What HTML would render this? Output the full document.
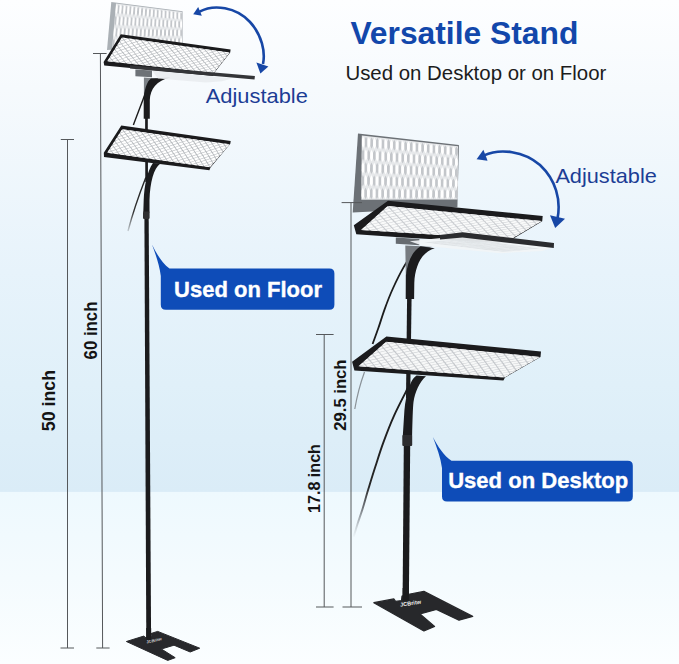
<!DOCTYPE html>
<html lang="en"><head><meta charset="utf-8"><title>Versatile Stand</title>
<style>
html,body{margin:0;padding:0;background:#fff;}
body{width:679px;height:664px;overflow:hidden;font-family:"Liberation Sans",Arial,sans-serif;}
svg{display:block;}
</style></head><body>
<svg width="679" height="664" viewBox="0 0 679 664">
<defs>
<linearGradient id="sky" x1="0" y1="0" x2="0" y2="1">
<stop offset="0" stop-color="#fdfeff"/>
<stop offset="0.18" stop-color="#f6fafd"/>
<stop offset="0.55" stop-color="#e7f3fb"/>
<stop offset="0.78" stop-color="#e0f0f9"/>
<stop offset="1" stop-color="#daecf7"/>
</linearGradient>
<linearGradient id="floor" x1="0" y1="0" x2="0" y2="1">
<stop offset="0" stop-color="#eef9fe"/>
<stop offset="0.5" stop-color="#f4fbfe"/>
<stop offset="1" stop-color="#fbfeff"/>
</linearGradient>
<linearGradient id="cabfadeL" gradientUnits="userSpaceOnUse" x1="0" y1="175" x2="0" y2="236">
<stop offset="0" stop-color="#222"/><stop offset="0.6" stop-color="#333"/><stop offset="1" stop-color="#333" stop-opacity="0"/>
</linearGradient>
<linearGradient id="cabfadeR" gradientUnits="userSpaceOnUse" x1="0" y1="386" x2="0" y2="538">
<stop offset="0" stop-color="#1a1a1a"/><stop offset="0.66" stop-color="#262626"/><stop offset="0.8" stop-color="#50545a" stop-opacity="0.8"/><stop offset="1" stop-color="#80868c" stop-opacity="0"/>
</linearGradient>
<filter id="soft" x="-5%" y="-5%" width="110%" height="110%"><feGaussianBlur stdDeviation="0.4"/></filter>
</defs>
<rect x="0" y="0" width="679" height="493" fill="url(#sky)"/>
<rect x="0" y="491.9" width="679" height="172.1" fill="url(#floor)"/>
<polygon points="111.3,2.0 182.6,11.3 182.6,46.0 107.0,50.0" fill="#aab0b5"/>
<polygon points="116.0,3.4 182.2,12.0 182.2,45.5 112.0,49.5" fill="#e6e8ea"/>
<clipPath id="c1"><polygon points="116.0,3.4 182.2,12.0 182.2,45.5 112.0,49.5"/></clipPath>
<g clip-path="url(#c1)"><path d="M118.9 4.2 L119.6 7.2 L119.2 11.9 L118.0 14.7 L117.3 11.7 L117.7 7.0ZM122.8 4.7 L123.5 7.7 L123.2 12.3 L122.0 15.0 L121.2 12.1 L121.6 7.5ZM126.7 5.2 L127.4 8.1 L127.1 12.7 L125.9 15.4 L125.1 12.5 L125.5 7.9ZM130.6 5.7 L131.4 8.6 L131.0 13.0 L129.9 15.7 L129.1 12.9 L129.4 8.4ZM134.5 6.2 L135.3 9.0 L135.0 13.4 L133.8 16.0 L133.0 13.2 L133.3 8.8ZM138.4 6.7 L139.2 9.5 L138.9 13.8 L137.8 16.4 L136.9 13.6 L137.2 9.3ZM142.3 7.2 L143.1 9.9 L142.8 14.2 L141.7 16.7 L140.9 14.0 L141.1 9.7ZM146.2 7.7 L147.0 10.4 L146.8 14.5 L145.7 17.0 L144.8 14.4 L145.0 10.2ZM150.1 8.2 L150.9 10.8 L150.7 14.9 L149.6 17.3 L148.7 14.7 L149.0 10.6ZM154.0 8.7 L154.8 11.3 L154.7 15.3 L153.6 17.7 L152.7 15.1 L152.9 11.1ZM157.8 9.2 L158.7 11.7 L158.6 15.7 L157.5 18.0 L156.6 15.5 L156.8 11.5ZM161.7 9.7 L162.6 12.2 L162.5 16.0 L161.5 18.3 L160.6 15.9 L160.7 12.0ZM165.6 10.2 L166.6 12.6 L166.5 16.4 L165.4 18.6 L164.5 16.2 L164.6 12.4ZM169.5 10.7 L170.5 13.1 L170.4 16.8 L169.4 19.0 L168.4 16.6 L168.5 12.9ZM173.4 11.2 L174.4 13.6 L174.3 17.2 L173.3 19.3 L172.4 17.0 L172.4 13.3ZM177.3 11.7 L178.3 14.0 L178.3 17.5 L177.3 19.6 L176.3 17.4 L176.3 13.8ZM181.2 12.2 L182.2 14.5 L182.2 17.9 L181.2 20.0 L180.2 17.7 L180.2 14.2ZM115.9 15.5 L116.7 18.4 L116.3 23.2 L115.0 26.0 L114.3 23.1 L114.7 18.3ZM119.9 15.8 L120.7 18.7 L120.3 23.4 L119.1 26.2 L118.3 23.3 L118.7 18.6ZM123.9 16.1 L124.6 19.0 L124.3 23.5 L123.1 26.3 L122.3 23.5 L122.6 18.8ZM127.8 16.4 L128.6 19.2 L128.3 23.7 L127.1 26.5 L126.3 23.6 L126.6 19.1ZM131.8 16.7 L132.6 19.5 L132.3 23.9 L131.1 26.6 L130.3 23.8 L130.6 19.4ZM135.7 17.0 L136.5 19.8 L136.3 24.1 L135.1 26.7 L134.3 24.0 L134.6 19.6ZM139.7 17.3 L140.5 20.0 L140.3 24.3 L139.1 26.9 L138.3 24.2 L138.5 19.9ZM143.6 17.7 L144.5 20.3 L144.3 24.5 L143.1 27.0 L142.3 24.4 L142.5 20.2ZM147.6 18.0 L148.5 20.6 L148.2 24.7 L147.1 27.2 L146.2 24.6 L146.5 20.4ZM151.5 18.3 L152.4 20.8 L152.2 24.9 L151.1 27.3 L150.2 24.8 L150.4 20.7ZM155.5 18.6 L156.4 21.1 L156.2 25.1 L155.1 27.5 L154.2 25.0 L154.4 21.0ZM159.5 18.9 L160.4 21.4 L160.2 25.3 L159.1 27.6 L158.2 25.2 L158.4 21.2ZM163.4 19.2 L164.3 21.6 L164.2 25.4 L163.2 27.7 L162.2 25.3 L162.3 21.5ZM167.4 19.5 L168.3 21.9 L168.2 25.6 L167.2 27.9 L166.2 25.5 L166.3 21.8ZM171.3 19.8 L172.3 22.2 L172.2 25.8 L171.2 28.0 L170.2 25.7 L170.3 22.0ZM175.3 20.2 L176.2 22.4 L176.2 26.0 L175.2 28.2 L174.2 25.9 L174.3 22.3ZM179.2 20.5 L180.2 22.7 L180.2 26.2 L179.2 28.3 L178.2 26.1 L178.2 22.6ZM117.0 27.0 L117.7 29.9 L117.3 34.6 L116.1 37.5 L115.3 34.6 L115.7 29.9ZM121.0 27.1 L121.8 30.0 L121.4 34.6 L120.2 37.4 L119.4 34.6 L119.8 29.9ZM125.0 27.3 L125.8 30.1 L125.5 34.6 L124.2 37.4 L123.4 34.6 L123.8 30.0ZM129.0 27.4 L129.8 30.2 L129.5 34.6 L128.3 37.4 L127.5 34.6 L127.8 30.1ZM133.0 27.5 L133.9 30.2 L133.6 34.6 L132.4 37.3 L131.5 34.6 L131.8 30.2ZM137.0 27.6 L137.9 30.3 L137.6 34.6 L136.4 37.3 L135.6 34.6 L135.9 30.3ZM141.1 27.8 L141.9 30.4 L141.7 34.6 L140.5 37.2 L139.6 34.6 L139.9 30.4ZM145.1 27.9 L145.9 30.5 L145.7 34.6 L144.6 37.2 L143.7 34.6 L143.9 30.4ZM149.1 28.0 L150.0 30.6 L149.8 34.6 L148.6 37.1 L147.7 34.6 L148.0 30.5ZM153.1 28.2 L154.0 30.6 L153.8 34.6 L152.7 37.1 L151.8 34.6 L152.0 30.6ZM157.1 28.3 L158.0 30.7 L157.9 34.6 L156.8 37.1 L155.9 34.6 L156.0 30.7ZM161.1 28.4 L162.1 30.8 L161.9 34.6 L160.8 37.0 L159.9 34.6 L160.0 30.8ZM165.1 28.5 L166.1 30.9 L166.0 34.7 L164.9 37.0 L164.0 34.7 L164.1 30.8ZM169.2 28.7 L170.1 31.0 L170.0 34.7 L169.0 36.9 L168.0 34.7 L168.1 30.9ZM173.2 28.8 L174.1 31.0 L174.1 34.7 L173.0 36.9 L172.1 34.7 L172.1 31.0ZM177.2 28.9 L178.2 31.1 L178.1 34.7 L177.1 36.8 L176.1 34.7 L176.2 31.1ZM181.2 29.1 L182.2 31.2 L182.2 34.7 L181.2 36.8 L180.2 34.7 L180.2 31.2ZM114.0 38.4 L114.8 41.3 L114.3 46.0 L113.1 49.0 L112.3 46.1 L112.7 41.4ZM118.1 38.4 L118.8 41.2 L118.5 45.9 L117.2 48.8 L116.4 45.9 L116.8 41.2ZM122.1 38.3 L122.9 41.1 L122.6 45.7 L121.3 48.5 L120.5 45.8 L120.9 41.1ZM126.2 38.2 L127.0 41.0 L126.7 45.5 L125.5 48.3 L124.6 45.6 L125.0 41.0ZM130.3 38.2 L131.1 40.9 L130.8 45.3 L129.6 48.1 L128.7 45.4 L129.1 40.9ZM134.3 38.1 L135.2 40.8 L134.9 45.1 L133.7 47.8 L132.9 45.2 L133.1 40.8ZM138.4 38.1 L139.3 40.7 L139.0 44.9 L137.8 47.6 L137.0 45.0 L137.2 40.7ZM142.5 38.0 L143.4 40.6 L143.1 44.8 L142.0 47.4 L141.1 44.9 L141.3 40.6ZM146.6 38.0 L147.5 40.5 L147.2 44.6 L146.1 47.2 L145.2 44.7 L145.4 40.5ZM150.6 37.9 L151.5 40.4 L151.4 44.4 L150.2 46.9 L149.3 44.5 L149.5 40.4ZM154.7 37.8 L155.6 40.3 L155.5 44.2 L154.3 46.7 L153.4 44.3 L153.6 40.3ZM158.8 37.8 L159.7 40.2 L159.6 44.0 L158.5 46.5 L157.5 44.1 L157.7 40.2ZM162.9 37.7 L163.8 40.0 L163.7 43.9 L162.6 46.2 L161.6 44.0 L161.8 40.1ZM166.9 37.7 L167.9 39.9 L167.8 43.7 L166.7 46.0 L165.8 43.8 L165.8 40.0ZM171.0 37.6 L172.0 39.8 L171.9 43.5 L170.9 45.8 L169.9 43.6 L169.9 39.9ZM175.1 37.6 L176.1 39.7 L176.0 43.3 L175.0 45.6 L174.0 43.4 L174.0 39.8ZM179.1 37.5 L180.2 39.6 L180.1 43.1 L179.1 45.3 L178.1 43.2 L178.1 39.7Z" fill="#c3c6ca" filter="url(#soft)"/><path d="M116.9 4.0 L117.7 7.0 L117.3 11.7 L116.0 14.5 L115.3 11.5 L115.7 6.8ZM120.8 4.5 L121.6 7.5 L121.2 12.1 L120.0 14.9 L119.2 11.9 L119.6 7.2ZM124.7 5.0 L125.5 7.9 L125.1 12.5 L123.9 15.2 L123.2 12.3 L123.5 7.7ZM128.6 5.5 L129.4 8.4 L129.1 12.9 L127.9 15.5 L127.1 12.7 L127.4 8.1ZM132.5 6.0 L133.3 8.8 L133.0 13.2 L131.8 15.9 L131.0 13.0 L131.4 8.6ZM136.4 6.5 L137.2 9.3 L136.9 13.6 L135.8 16.2 L135.0 13.4 L135.3 9.0ZM140.3 7.0 L141.1 9.7 L140.9 14.0 L139.7 16.5 L138.9 13.8 L139.2 9.5ZM144.2 7.5 L145.0 10.2 L144.8 14.4 L143.7 16.8 L142.8 14.2 L143.1 9.9ZM148.1 8.0 L149.0 10.6 L148.7 14.7 L147.6 17.2 L146.8 14.5 L147.0 10.4ZM152.0 8.5 L152.9 11.1 L152.7 15.1 L151.6 17.5 L150.7 14.9 L150.9 10.8ZM155.9 9.0 L156.8 11.5 L156.6 15.5 L155.5 17.8 L154.7 15.3 L154.8 11.3ZM159.8 9.5 L160.7 12.0 L160.6 15.9 L159.5 18.2 L158.6 15.7 L158.7 11.7ZM163.7 10.0 L164.6 12.4 L164.5 16.2 L163.4 18.5 L162.5 16.0 L162.6 12.2ZM167.6 10.5 L168.5 12.9 L168.4 16.6 L167.4 18.8 L166.5 16.4 L166.6 12.6ZM171.5 11.0 L172.4 13.3 L172.4 17.0 L171.3 19.1 L170.4 16.8 L170.5 13.1ZM175.4 11.5 L176.3 13.8 L176.3 17.4 L175.3 19.5 L174.3 17.2 L174.4 13.6ZM179.3 12.0 L180.2 14.2 L180.2 17.7 L179.2 19.8 L178.3 17.5 L178.3 14.0ZM117.9 15.6 L118.7 18.6 L118.3 23.3 L117.0 26.1 L116.3 23.2 L116.7 18.4ZM121.9 15.9 L122.6 18.8 L122.3 23.5 L121.1 26.2 L120.3 23.4 L120.7 18.7ZM125.8 16.2 L126.6 19.1 L126.3 23.6 L125.1 26.4 L124.3 23.5 L124.6 19.0ZM129.8 16.6 L130.6 19.4 L130.3 23.8 L129.1 26.5 L128.3 23.7 L128.6 19.2ZM133.7 16.9 L134.6 19.6 L134.3 24.0 L133.1 26.7 L132.3 23.9 L132.6 19.5ZM137.7 17.2 L138.5 19.9 L138.3 24.2 L137.1 26.8 L136.3 24.1 L136.5 19.8ZM141.7 17.5 L142.5 20.2 L142.3 24.4 L141.1 27.0 L140.3 24.3 L140.5 20.0ZM145.6 17.8 L146.5 20.4 L146.2 24.6 L145.1 27.1 L144.3 24.5 L144.5 20.3ZM149.6 18.1 L150.4 20.7 L150.2 24.8 L149.1 27.2 L148.2 24.7 L148.5 20.6ZM153.5 18.4 L154.4 21.0 L154.2 25.0 L153.1 27.4 L152.2 24.9 L152.4 20.8ZM157.5 18.8 L158.4 21.2 L158.2 25.2 L157.1 27.5 L156.2 25.1 L156.4 21.1ZM161.4 19.1 L162.3 21.5 L162.2 25.3 L161.2 27.7 L160.2 25.3 L160.4 21.4ZM165.4 19.4 L166.3 21.8 L166.2 25.5 L165.2 27.8 L164.2 25.4 L164.3 21.6ZM169.3 19.7 L170.3 22.0 L170.2 25.7 L169.2 28.0 L168.2 25.6 L168.3 21.9ZM173.3 20.0 L174.3 22.3 L174.2 25.9 L173.2 28.1 L172.2 25.8 L172.3 22.2ZM177.3 20.3 L178.2 22.6 L178.2 26.1 L177.2 28.2 L176.2 26.0 L176.2 22.4ZM181.2 20.6 L182.2 22.8 L182.2 26.3 L181.2 28.4 L180.2 26.2 L180.2 22.7ZM115.0 26.9 L115.7 29.9 L115.3 34.6 L114.1 37.5 L113.3 34.6 L113.7 29.8ZM119.0 27.1 L119.8 29.9 L119.4 34.6 L118.1 37.5 L117.3 34.6 L117.7 29.9ZM123.0 27.2 L123.8 30.0 L123.4 34.6 L122.2 37.4 L121.4 34.6 L121.8 30.0ZM127.0 27.3 L127.8 30.1 L127.5 34.6 L126.3 37.4 L125.5 34.6 L125.8 30.1ZM131.0 27.5 L131.8 30.2 L131.5 34.6 L130.3 37.3 L129.5 34.6 L129.8 30.2ZM135.0 27.6 L135.9 30.3 L135.6 34.6 L134.4 37.3 L133.6 34.6 L133.9 30.2ZM139.0 27.7 L139.9 30.4 L139.6 34.6 L138.5 37.2 L137.6 34.6 L137.9 30.3ZM143.1 27.8 L143.9 30.4 L143.7 34.6 L142.5 37.2 L141.7 34.6 L141.9 30.4ZM147.1 28.0 L148.0 30.5 L147.7 34.6 L146.6 37.2 L145.7 34.6 L145.9 30.5ZM151.1 28.1 L152.0 30.6 L151.8 34.6 L150.7 37.1 L149.8 34.6 L150.0 30.6ZM155.1 28.2 L156.0 30.7 L155.9 34.6 L154.7 37.1 L153.8 34.6 L154.0 30.6ZM159.1 28.3 L160.0 30.8 L159.9 34.6 L158.8 37.0 L157.9 34.6 L158.0 30.7ZM163.1 28.5 L164.1 30.8 L164.0 34.7 L162.9 37.0 L161.9 34.6 L162.1 30.8ZM167.1 28.6 L168.1 30.9 L168.0 34.7 L166.9 36.9 L166.0 34.7 L166.1 30.9ZM171.2 28.7 L172.1 31.0 L172.1 34.7 L171.0 36.9 L170.0 34.7 L170.1 31.0ZM175.2 28.9 L176.2 31.1 L176.1 34.7 L175.1 36.9 L174.1 34.7 L174.1 31.0ZM179.2 29.0 L180.2 31.2 L180.2 34.7 L179.1 36.8 L178.1 34.7 L178.2 31.1ZM116.0 38.4 L116.8 41.2 L116.4 45.9 L115.1 48.9 L114.3 46.0 L114.8 41.3ZM120.1 38.3 L120.9 41.1 L120.5 45.8 L119.3 48.6 L118.5 45.9 L118.8 41.2ZM124.2 38.3 L125.0 41.0 L124.6 45.6 L123.4 48.4 L122.6 45.7 L122.9 41.1ZM128.2 38.2 L129.1 40.9 L128.7 45.4 L127.5 48.2 L126.7 45.5 L127.0 41.0ZM132.3 38.2 L133.1 40.8 L132.9 45.2 L131.6 48.0 L130.8 45.3 L131.1 40.9ZM136.4 38.1 L137.2 40.7 L137.0 45.0 L135.8 47.7 L134.9 45.1 L135.2 40.8ZM140.5 38.0 L141.3 40.6 L141.1 44.9 L139.9 47.5 L139.0 44.9 L139.3 40.7ZM144.5 38.0 L145.4 40.5 L145.2 44.7 L144.0 47.3 L143.1 44.8 L143.4 40.6ZM148.6 37.9 L149.5 40.4 L149.3 44.5 L148.2 47.0 L147.2 44.6 L147.5 40.5ZM152.7 37.9 L153.6 40.3 L153.4 44.3 L152.3 46.8 L151.4 44.4 L151.5 40.4ZM156.7 37.8 L157.7 40.2 L157.5 44.1 L156.4 46.6 L155.5 44.2 L155.6 40.3ZM160.8 37.8 L161.8 40.1 L161.6 44.0 L160.5 46.4 L159.6 44.0 L159.7 40.2ZM164.9 37.7 L165.8 40.0 L165.8 43.8 L164.7 46.1 L163.7 43.9 L163.8 40.0ZM169.0 37.6 L169.9 39.9 L169.9 43.6 L168.8 45.9 L167.8 43.7 L167.9 39.9ZM173.0 37.6 L174.0 39.8 L174.0 43.4 L172.9 45.7 L171.9 43.5 L172.0 39.8ZM177.1 37.5 L178.1 39.7 L178.1 43.2 L177.0 45.4 L176.0 43.3 L176.1 39.7ZM181.2 37.5 L182.2 39.6 L182.2 43.0 L181.2 45.2 L180.1 43.1 L180.2 39.6Z" fill="#ffffff" opacity="1.00" filter="url(#soft)"/></g>
<polygon points="135.4,69.5 152,70.5 152,77.2 135.4,76.2" fill="#6d7277"/>
<path d="M143.9 77.6 L157 78.4 C152 81 148 88 146.5 100 L143.9 100 Z" fill="#7c8186"/>
<path d="M145.8 177.6 C139 195 132.5 214 128 231" stroke="url(#cabfadeL)" stroke-width="1.4" fill="none"/>
<path d="M149.8 80.8 C145 95 139 110 133.4 125" stroke="#1c1c1c" stroke-width="1.4" fill="none"/>
<polygon points="145.1,117 147.8,117 148.0,182 145.3,182" fill="#1b1b1d"/>
<polygon points="144.4,218 148.7,218 151.1,640 146.3,640" fill="#1b1b1d"/>
<path d="M170.5 77.6 C156.5 80.5 150.4 89 149.8 100 L149.8 118.8 L143.7 118.8 L143.7 100 C144.2 90 146.6 82 151 78.6 Z" fill="#1b1b1d"/>
<path d="M160.5 163.4 C153.5 168.5 150.2 182 149.5 200 L149.5 212 L143.3 212 L143.7 200 C144.2 186 147.2 171 153 163 Z" fill="#1b1b1d"/>
<rect x="143" y="211.5" width="6.6" height="7.4" rx="0.8" fill="#2f2f31"/>
<polygon points="120.8,34.2 230.6,49.6 230.2,52.4 214.1,73.0 213.4,76.0 104.3,65.6 103.6,62.0" fill="#1b1b1d"/>
<polygon points="122.0,37.5 229.7,52.6 213.6,72.9 107.3,61.3" fill="#b3b7bb"/>
<clipPath id="c2"><polygon points="122.0,37.5 229.7,52.6 213.6,72.9 107.3,61.3"/></clipPath>
<g clip-path="url(#c2)"><path d="M126.2 36.3 L127.8 38.3 L124.2 39.6 L122.6 37.6ZM132.5 37.2 L134.1 39.2 L130.5 40.4 L128.9 38.5ZM138.9 38.1 L140.4 40.1 L136.8 41.3 L135.2 39.4ZM145.2 39.0 L146.8 41.0 L143.1 42.2 L141.6 40.2ZM151.5 39.9 L153.1 41.9 L149.5 43.1 L147.9 41.1ZM157.9 40.8 L159.4 42.7 L155.8 43.9 L154.2 42.0ZM164.2 41.7 L165.8 43.6 L162.1 44.8 L160.6 42.9ZM170.6 42.6 L172.1 44.5 L168.5 45.7 L166.9 43.8ZM176.9 43.5 L178.4 45.4 L174.8 46.6 L173.3 44.7ZM183.2 44.4 L184.8 46.3 L181.1 47.4 L179.6 45.6ZM189.6 45.3 L191.1 47.2 L187.5 48.3 L185.9 46.5ZM195.9 46.3 L197.5 48.1 L193.8 49.2 L192.3 47.4ZM202.3 47.2 L203.8 49.0 L200.1 50.1 L198.6 48.2ZM208.6 48.1 L210.1 49.9 L206.4 50.9 L204.9 49.1ZM214.9 49.0 L216.5 50.7 L212.8 51.8 L211.3 50.0ZM221.3 49.9 L222.8 51.6 L219.1 52.7 L217.6 50.9ZM227.6 50.8 L229.1 52.5 L225.4 53.6 L223.9 51.8ZM121.8 37.9 L123.4 39.8 L119.8 41.1 L118.2 39.1ZM128.1 38.7 L129.7 40.7 L126.1 42.0 L124.5 40.0ZM134.4 39.6 L136.0 41.6 L132.4 42.8 L130.8 40.9ZM140.8 40.5 L142.4 42.5 L138.7 43.7 L137.2 41.7ZM147.1 41.4 L148.7 43.3 L145.1 44.5 L143.5 42.6ZM153.4 42.3 L155.0 44.2 L151.4 45.4 L149.8 43.5ZM159.8 43.2 L161.3 45.1 L157.7 46.3 L156.2 44.4ZM166.1 44.1 L167.7 45.9 L164.0 47.1 L162.5 45.2ZM172.5 44.9 L174.0 46.8 L170.4 48.0 L168.8 46.1ZM178.8 45.8 L180.3 47.7 L176.7 48.8 L175.1 47.0ZM185.1 46.7 L186.7 48.6 L183.0 49.7 L181.5 47.8ZM191.5 47.6 L193.0 49.4 L189.3 50.5 L187.8 48.7ZM197.8 48.5 L199.3 50.3 L195.6 51.4 L194.1 49.6ZM204.1 49.4 L205.6 51.2 L202.0 52.3 L200.4 50.5ZM210.5 50.2 L212.0 52.0 L208.3 53.1 L206.8 51.3ZM216.8 51.1 L218.3 52.9 L214.6 54.0 L213.1 52.2ZM223.1 52.0 L224.6 53.8 L220.9 54.8 L219.4 53.1ZM229.5 52.9 L231.0 54.6 L227.3 55.7 L225.8 53.9ZM123.7 40.3 L125.3 42.2 L121.7 43.5 L120.1 41.5ZM130.0 41.1 L131.6 43.1 L128.0 44.4 L126.4 42.4ZM136.4 42.0 L137.9 44.0 L134.3 45.2 L132.8 43.3ZM142.7 42.9 L144.3 44.8 L140.7 46.0 L139.1 44.1ZM149.0 43.7 L150.6 45.7 L147.0 46.9 L145.4 45.0ZM155.4 44.6 L156.9 46.5 L153.3 47.7 L151.7 45.8ZM161.7 45.5 L163.2 47.4 L159.6 48.6 L158.0 46.7ZM168.0 46.4 L169.6 48.2 L165.9 49.4 L164.4 47.5ZM174.3 47.2 L175.9 49.1 L172.2 50.2 L170.7 48.4ZM180.7 48.1 L182.2 49.9 L178.5 51.1 L177.0 49.2ZM187.0 49.0 L188.5 50.8 L184.9 51.9 L183.3 50.1ZM193.3 49.8 L194.8 51.6 L191.2 52.8 L189.7 50.9ZM199.6 50.7 L201.2 52.5 L197.5 53.6 L196.0 51.8ZM206.0 51.6 L207.5 53.3 L203.8 54.4 L202.3 52.6ZM212.3 52.4 L213.8 54.2 L210.1 55.3 L208.6 53.5ZM218.6 53.3 L220.1 55.1 L216.4 56.1 L214.9 54.4ZM225.0 54.2 L226.4 55.9 L222.8 57.0 L221.3 55.2ZM119.3 41.8 L120.9 43.8 L117.3 45.1 L115.7 43.1ZM125.6 42.7 L127.2 44.6 L123.6 45.9 L122.1 43.9ZM132.0 43.5 L133.5 45.5 L129.9 46.7 L128.4 44.8ZM138.3 44.4 L139.9 46.3 L136.2 47.5 L134.7 45.6ZM144.6 45.2 L146.2 47.1 L142.6 48.4 L141.0 46.5ZM150.9 46.1 L152.5 48.0 L148.9 49.2 L147.3 47.3ZM157.3 46.9 L158.8 48.8 L155.2 50.0 L153.6 48.1ZM163.6 47.8 L165.1 49.7 L161.5 50.8 L159.9 49.0ZM169.9 48.6 L171.4 50.5 L167.8 51.7 L166.3 49.8ZM176.2 49.5 L177.7 51.3 L174.1 52.5 L172.6 50.6ZM182.5 50.3 L184.1 52.2 L180.4 53.3 L178.9 51.5ZM188.9 51.2 L190.4 53.0 L186.7 54.1 L185.2 52.3ZM195.2 52.0 L196.7 53.8 L193.0 54.9 L191.5 53.1ZM201.5 52.9 L203.0 54.7 L199.3 55.8 L197.8 54.0ZM207.8 53.7 L209.3 55.5 L205.6 56.6 L204.1 54.8ZM214.1 54.6 L215.6 56.3 L212.0 57.4 L210.5 55.7ZM220.5 55.4 L221.9 57.2 L218.3 58.2 L216.8 56.5ZM226.8 56.3 L228.3 58.0 L224.6 59.1 L223.1 57.3ZM121.3 44.2 L122.8 46.2 L119.2 47.5 L117.7 45.5ZM127.6 45.1 L129.1 47.0 L125.5 48.3 L124.0 46.3ZM133.9 45.9 L135.5 47.8 L131.9 49.1 L130.3 47.1ZM140.2 46.7 L141.8 48.6 L138.2 49.9 L136.6 48.0ZM146.5 47.6 L148.1 49.5 L144.5 50.7 L142.9 48.8ZM152.8 48.4 L154.4 50.3 L150.8 51.5 L149.2 49.6ZM159.1 49.2 L160.7 51.1 L157.1 52.3 L155.5 50.4ZM165.5 50.1 L167.0 51.9 L163.4 53.1 L161.8 51.2ZM171.8 50.9 L173.3 52.7 L169.7 53.9 L168.1 52.1ZM178.1 51.7 L179.6 53.6 L176.0 54.7 L174.4 52.9ZM184.4 52.6 L185.9 54.4 L182.3 55.5 L180.7 53.7ZM190.7 53.4 L192.2 55.2 L188.6 56.3 L187.1 54.5ZM197.0 54.2 L198.5 56.0 L194.9 57.1 L193.4 55.3ZM203.3 55.1 L204.8 56.8 L201.2 57.9 L199.7 56.2ZM209.6 55.9 L211.1 57.7 L207.5 58.7 L206.0 57.0ZM216.0 56.7 L217.5 58.5 L213.8 59.5 L212.3 57.8ZM222.3 57.6 L223.8 59.3 L220.1 60.4 L218.6 58.6ZM116.9 45.8 L118.5 47.7 L114.9 49.0 L113.3 47.1ZM123.2 46.6 L124.8 48.5 L121.2 49.8 L119.6 47.9ZM129.5 47.4 L131.1 49.4 L127.5 50.6 L125.9 48.7ZM135.8 48.2 L137.4 50.2 L133.8 51.4 L132.2 49.5ZM142.1 49.1 L143.7 51.0 L140.1 52.2 L138.5 50.3ZM148.4 49.9 L150.0 51.8 L146.3 53.0 L144.8 51.1ZM154.7 50.7 L156.3 52.6 L152.6 53.8 L151.1 51.9ZM161.0 51.5 L162.6 53.4 L158.9 54.6 L157.4 52.7ZM167.3 52.3 L168.9 54.2 L165.2 55.4 L163.7 53.5ZM173.6 53.1 L175.2 55.0 L171.5 56.1 L170.0 54.3ZM179.9 54.0 L181.5 55.8 L177.8 56.9 L176.3 55.1ZM186.3 54.8 L187.8 56.6 L184.1 57.7 L182.6 55.9ZM192.6 55.6 L194.1 57.4 L190.4 58.5 L188.9 56.7ZM198.9 56.4 L200.4 58.2 L196.7 59.3 L195.2 57.5ZM205.2 57.2 L206.7 59.0 L203.0 60.1 L201.5 58.3ZM211.5 58.0 L213.0 59.8 L209.3 60.9 L207.8 59.1ZM217.8 58.9 L219.3 60.6 L215.6 61.7 L214.1 59.9ZM224.1 59.7 L225.6 61.4 L221.9 62.4 L220.4 60.7ZM118.8 48.2 L120.4 50.1 L116.8 51.4 L115.2 49.5ZM125.1 49.0 L126.7 50.9 L123.1 52.2 L121.5 50.3ZM131.4 49.8 L133.0 51.7 L129.4 53.0 L127.8 51.0ZM137.7 50.6 L139.3 52.5 L135.7 53.7 L134.1 51.8ZM144.0 51.4 L145.6 53.3 L141.9 54.5 L140.4 52.6ZM150.3 52.2 L151.8 54.0 L148.2 55.3 L146.7 53.4ZM156.6 53.0 L158.1 54.8 L154.5 56.0 L153.0 54.2ZM162.9 53.8 L164.4 55.6 L160.8 56.8 L159.3 55.0ZM169.2 54.6 L170.7 56.4 L167.1 57.6 L165.6 55.8ZM175.5 55.4 L177.0 57.2 L173.4 58.4 L171.9 56.5ZM181.8 56.2 L183.3 58.0 L179.7 59.1 L178.2 57.3ZM188.1 57.0 L189.6 58.8 L186.0 59.9 L184.5 58.1ZM194.4 57.8 L195.9 59.5 L192.3 60.7 L190.7 58.9ZM200.7 58.6 L202.2 60.3 L198.5 61.4 L197.0 59.7ZM207.0 59.4 L208.5 61.1 L204.8 62.2 L203.3 60.5ZM213.3 60.2 L214.8 61.9 L211.1 63.0 L209.6 61.3ZM219.6 61.0 L221.1 62.7 L217.4 63.8 L215.9 62.0ZM114.4 49.8 L116.0 51.7 L112.4 53.0 L110.8 51.1ZM120.7 50.5 L122.3 52.5 L118.7 53.8 L117.1 51.8ZM127.0 51.3 L128.6 53.2 L125.0 54.5 L123.4 52.6ZM133.3 52.1 L134.9 54.0 L131.3 55.3 L129.7 53.4ZM139.6 52.9 L141.2 54.8 L137.5 56.0 L136.0 54.1ZM145.9 53.7 L147.4 55.5 L143.8 56.8 L142.3 54.9ZM152.2 54.5 L153.7 56.3 L150.1 57.5 L148.6 55.7ZM158.5 55.2 L160.0 57.1 L156.4 58.3 L154.9 56.4ZM164.8 56.0 L166.3 57.8 L162.7 59.0 L161.1 57.2ZM171.1 56.8 L172.6 58.6 L169.0 59.8 L167.4 58.0ZM177.4 57.6 L178.9 59.4 L175.2 60.6 L173.7 58.7ZM183.7 58.4 L185.2 60.1 L181.5 61.3 L180.0 59.5ZM189.9 59.1 L191.4 60.9 L187.8 62.1 L186.3 60.3ZM196.2 59.9 L197.7 61.7 L194.1 62.8 L192.6 61.1ZM202.5 60.7 L204.0 62.5 L200.4 63.6 L198.9 61.8ZM208.8 61.5 L210.3 63.2 L206.6 64.3 L205.2 62.6ZM215.1 62.3 L216.6 64.0 L212.9 65.1 L211.4 63.4ZM221.4 63.1 L222.9 64.8 L219.2 65.8 L217.7 64.1ZM116.3 52.1 L117.9 54.1 L114.3 55.4 L112.8 53.4ZM122.6 52.9 L124.2 54.8 L120.6 56.1 L119.0 54.2ZM128.9 53.7 L130.5 55.6 L126.9 56.8 L125.3 54.9ZM135.2 54.4 L136.8 56.3 L133.2 57.6 L131.6 55.7ZM141.5 55.2 L143.0 57.1 L139.4 58.3 L137.9 56.4ZM147.8 55.9 L149.3 57.8 L145.7 59.0 L144.2 57.2ZM154.1 56.7 L155.6 58.6 L152.0 59.8 L150.4 57.9ZM160.3 57.5 L161.9 59.3 L158.3 60.5 L156.7 58.7ZM166.6 58.2 L168.2 60.1 L164.5 61.3 L163.0 59.4ZM172.9 59.0 L174.4 60.8 L170.8 62.0 L169.3 60.2ZM179.2 59.8 L180.7 61.6 L177.1 62.7 L175.6 60.9ZM185.5 60.5 L187.0 62.3 L183.4 63.5 L181.8 61.7ZM191.8 61.3 L193.3 63.1 L189.6 64.2 L188.1 62.4ZM198.1 62.1 L199.6 63.8 L195.9 64.9 L194.4 63.2ZM204.4 62.8 L205.8 64.6 L202.2 65.7 L200.7 63.9ZM210.6 63.6 L212.1 65.3 L208.5 66.4 L207.0 64.7ZM216.9 64.4 L218.4 66.1 L214.7 67.2 L213.3 65.4ZM112.0 53.7 L113.5 55.7 L110.0 57.0 L108.4 55.0ZM118.3 54.5 L119.8 56.4 L116.2 57.7 L114.7 55.8ZM124.5 55.2 L126.1 57.1 L122.5 58.4 L120.9 56.5ZM130.8 56.0 L132.4 57.9 L128.8 59.1 L127.2 57.3ZM137.1 56.7 L138.6 58.6 L135.0 59.9 L133.5 58.0ZM143.4 57.5 L144.9 59.3 L141.3 60.6 L139.8 58.7ZM149.7 58.2 L151.2 60.1 L147.6 61.3 L146.0 59.5ZM155.9 59.0 L157.5 60.8 L153.8 62.0 L152.3 60.2ZM162.2 59.7 L163.7 61.5 L160.1 62.7 L158.6 60.9ZM168.5 60.5 L170.0 62.3 L166.4 63.5 L164.9 61.7ZM174.8 61.2 L176.3 63.0 L172.6 64.2 L171.1 62.4ZM181.1 62.0 L182.6 63.7 L178.9 64.9 L177.4 63.1ZM187.3 62.7 L188.8 64.5 L185.2 65.6 L183.7 63.9ZM193.6 63.4 L195.1 65.2 L191.5 66.3 L190.0 64.6ZM199.9 64.2 L201.4 65.9 L197.7 67.1 L196.2 65.3ZM206.2 64.9 L207.7 66.7 L204.0 67.8 L202.5 66.1ZM212.4 65.7 L213.9 67.4 L210.3 68.5 L208.8 66.8ZM218.7 66.4 L220.2 68.1 L216.5 69.2 L215.1 67.5ZM113.9 56.1 L115.5 58.0 L111.9 59.3 L110.3 57.4ZM120.2 56.8 L121.7 58.7 L118.1 60.0 L116.6 58.1ZM126.4 57.5 L128.0 59.4 L124.4 60.7 L122.8 58.8ZM132.7 58.3 L134.3 60.1 L130.7 61.4 L129.1 59.5ZM139.0 59.0 L140.5 60.9 L136.9 62.1 L135.4 60.3ZM145.3 59.7 L146.8 61.6 L143.2 62.8 L141.6 61.0ZM151.5 60.5 L153.1 62.3 L149.4 63.5 L147.9 61.7ZM157.8 61.2 L159.3 63.0 L155.7 64.2 L154.2 62.4ZM164.1 61.9 L165.6 63.7 L162.0 64.9 L160.4 63.1ZM170.3 62.6 L171.9 64.4 L168.2 65.6 L166.7 63.8ZM176.6 63.4 L178.1 65.2 L174.5 66.3 L173.0 64.6ZM182.9 64.1 L184.4 65.9 L180.7 67.0 L179.2 65.3ZM189.2 64.8 L190.7 66.6 L187.0 67.7 L185.5 66.0ZM195.4 65.6 L196.9 67.3 L193.3 68.4 L191.8 66.7ZM201.7 66.3 L203.2 68.0 L199.5 69.1 L198.0 67.4ZM208.0 67.0 L209.5 68.7 L205.8 69.8 L204.3 68.1ZM214.2 67.8 L215.7 69.5 L212.1 70.6 L210.6 68.9ZM109.5 57.7 L111.1 59.6 L107.5 60.9 L106.0 59.0ZM115.8 58.4 L117.4 60.3 L113.8 61.6 L112.2 59.7ZM122.1 59.1 L123.6 61.0 L120.0 62.3 L118.5 60.4ZM128.3 59.8 L129.9 61.7 L126.3 63.0 L124.7 61.1ZM134.6 60.5 L136.1 62.4 L132.5 63.7 L131.0 61.8ZM140.9 61.3 L142.4 63.1 L138.8 64.4 L137.3 62.5ZM147.1 62.0 L148.7 63.8 L145.0 65.1 L143.5 63.2ZM153.4 62.7 L154.9 64.5 L151.3 65.7 L149.8 63.9ZM159.7 63.4 L161.2 65.2 L157.6 66.4 L156.0 64.6ZM165.9 64.1 L167.4 65.9 L163.8 67.1 L162.3 65.3ZM172.2 64.8 L173.7 66.6 L170.1 67.8 L168.6 66.0ZM178.4 65.5 L179.9 67.3 L176.3 68.5 L174.8 66.7ZM184.7 66.3 L186.2 68.0 L182.6 69.2 L181.1 67.4ZM191.0 67.0 L192.5 68.7 L188.8 69.9 L187.3 68.1ZM197.2 67.7 L198.7 69.4 L195.1 70.5 L193.6 68.8ZM203.5 68.4 L205.0 70.1 L201.3 71.2 L199.9 69.5ZM209.8 69.1 L211.2 70.8 L207.6 71.9 L206.1 70.2ZM216.0 69.8 L217.5 71.5 L213.8 72.6 L212.4 70.9ZM111.4 60.0 L113.0 61.9 L109.4 63.3 L107.9 61.4ZM117.7 60.7 L119.2 62.6 L115.7 63.9 L114.1 62.0ZM124.0 61.4 L125.5 63.3 L121.9 64.6 L120.4 62.7ZM130.2 62.1 L131.7 64.0 L128.2 65.3 L126.6 63.4ZM136.5 62.8 L138.0 64.7 L134.4 65.9 L132.9 64.1ZM142.7 63.5 L144.3 65.3 L140.7 66.6 L139.1 64.8ZM149.0 64.2 L150.5 66.0 L146.9 67.3 L145.4 65.5ZM155.2 64.9 L156.8 66.7 L153.2 67.9 L151.6 66.1ZM161.5 65.6 L163.0 67.4 L159.4 68.6 L157.9 66.8ZM167.8 66.3 L169.3 68.1 L165.6 69.3 L164.1 67.5ZM174.0 67.0 L175.5 68.7 L171.9 69.9 L170.4 68.2ZM180.3 67.7 L181.8 69.4 L178.1 70.6 L176.6 68.9ZM186.5 68.4 L188.0 70.1 L184.4 71.3 L182.9 69.5ZM192.8 69.1 L194.3 70.8 L190.6 71.9 L189.2 70.2ZM199.1 69.8 L200.5 71.5 L196.9 72.6 L195.4 70.9ZM205.3 70.5 L206.8 72.2 L203.1 73.3 L201.7 71.6ZM211.6 71.2 L213.0 72.8 L209.4 74.0 L207.9 72.3Z" fill="#ffffff" opacity="1.00" filter="url(#soft)"/></g>
<polygon points="152,70.5 232,78.6 222,81.2 206,82.4 158,78.4" fill="#e9ecef" opacity="0.9"/>
<polygon points="130,65.2 254.9,76.0 254.5,79.6 130,68.4" fill="#343538"/>
<polygon points="121.3,125.6 230.7,141.0 230.3,143.8 210.5,167.4 209.4,170.3 104.0,157.0 103.8,152.8" fill="#1b1b1d"/>
<polygon points="122.2,129.3 229.7,144.2 209.9,167.2 107.2,152.7" fill="#b3b7bb"/>
<clipPath id="c3"><polygon points="122.2,129.3 229.7,144.2 209.9,167.2 107.2,152.7"/></clipPath>
<g clip-path="url(#c3)"><path d="M126.4 128.1 L128.0 130.1 L124.3 131.3 L122.8 129.4ZM132.7 129.0 L134.3 131.0 L130.6 132.2 L129.1 130.3ZM139.1 129.9 L140.6 131.9 L136.9 133.1 L135.4 131.1ZM145.4 130.8 L146.9 132.7 L143.2 134.0 L141.7 132.0ZM151.8 131.7 L153.2 133.6 L149.5 134.8 L148.1 132.9ZM158.1 132.5 L159.6 134.5 L155.8 135.7 L154.4 133.8ZM164.5 133.4 L165.9 135.4 L162.2 136.6 L160.7 134.6ZM170.8 134.3 L172.2 136.2 L168.5 137.5 L167.0 135.5ZM177.1 135.2 L178.5 137.1 L174.8 138.3 L173.4 136.4ZM183.5 136.0 L184.9 138.0 L181.1 139.2 L179.7 137.3ZM189.8 136.9 L191.2 138.9 L187.4 140.1 L186.0 138.1ZM196.2 137.8 L197.5 139.7 L193.7 141.0 L192.3 139.0ZM202.5 138.7 L203.8 140.6 L200.0 141.8 L198.7 139.9ZM208.9 139.6 L210.2 141.5 L206.3 142.7 L205.0 140.8ZM215.2 140.4 L216.5 142.4 L212.6 143.6 L211.3 141.6ZM221.5 141.3 L222.8 143.2 L218.9 144.5 L217.6 142.5ZM227.9 142.2 L229.1 144.1 L225.2 145.3 L223.9 143.4ZM122.0 129.7 L123.5 131.6 L119.9 132.8 L118.4 130.9ZM128.3 130.5 L129.8 132.5 L126.2 133.7 L124.7 131.8ZM134.6 131.4 L136.1 133.4 L132.5 134.6 L131.0 132.6ZM140.9 132.3 L142.4 134.2 L138.8 135.5 L137.3 133.5ZM147.3 133.2 L148.7 135.1 L145.0 136.3 L143.6 134.4ZM153.6 134.0 L155.0 136.0 L151.3 137.2 L149.9 135.3ZM159.9 134.9 L161.3 136.9 L157.6 138.1 L156.2 136.1ZM166.2 135.8 L167.6 137.7 L163.9 139.0 L162.5 137.0ZM172.5 136.7 L173.9 138.6 L170.2 139.8 L168.8 137.9ZM178.8 137.5 L180.2 139.5 L176.5 140.7 L175.1 138.8ZM185.2 138.4 L186.5 140.4 L182.7 141.6 L181.4 139.6ZM191.5 139.3 L192.8 141.2 L189.0 142.5 L187.7 140.5ZM197.8 140.2 L199.1 142.1 L195.3 143.3 L194.0 141.4ZM204.1 141.0 L205.4 143.0 L201.6 144.2 L200.3 142.3ZM210.4 141.9 L211.7 143.9 L207.9 145.1 L206.6 143.1ZM216.8 142.8 L218.0 144.7 L214.1 145.9 L212.9 144.0ZM223.1 143.7 L224.3 145.6 L220.4 146.8 L219.2 144.9ZM229.4 144.5 L230.6 146.5 L226.7 147.7 L225.5 145.8ZM123.9 132.0 L125.4 134.0 L121.8 135.2 L120.3 133.3ZM130.2 132.9 L131.7 134.9 L128.1 136.1 L126.5 134.2ZM136.5 133.8 L138.0 135.7 L134.3 137.0 L132.8 135.0ZM142.8 134.7 L144.2 136.6 L140.6 137.8 L139.1 135.9ZM149.1 135.5 L150.5 137.5 L146.8 138.7 L145.4 136.8ZM155.4 136.4 L156.8 138.4 L153.1 139.6 L151.6 137.6ZM161.6 137.3 L163.1 139.2 L159.3 140.5 L157.9 138.5ZM167.9 138.2 L169.3 140.1 L165.6 141.3 L164.2 139.4ZM174.2 139.0 L175.6 141.0 L171.9 142.2 L170.5 140.3ZM180.5 139.9 L181.9 141.8 L178.1 143.1 L176.8 141.1ZM186.8 140.8 L188.2 142.7 L184.4 143.9 L183.0 142.0ZM193.1 141.7 L194.5 143.6 L190.6 144.8 L189.3 142.9ZM199.4 142.5 L200.7 144.5 L196.9 145.7 L195.6 143.7ZM205.7 143.4 L207.0 145.3 L203.1 146.6 L201.9 144.6ZM212.0 144.3 L213.3 146.2 L209.4 147.4 L208.1 145.5ZM218.3 145.2 L219.6 147.1 L215.7 148.3 L214.4 146.4ZM224.6 146.0 L225.8 148.0 L221.9 149.2 L220.7 147.2ZM119.5 133.6 L121.0 135.5 L117.4 136.7 L115.9 134.8ZM125.7 134.4 L127.3 136.4 L123.7 137.6 L122.1 135.7ZM132.0 135.3 L133.5 137.2 L129.9 138.5 L128.4 136.5ZM138.3 136.2 L139.8 138.1 L136.1 139.4 L134.6 137.4ZM144.6 137.0 L146.0 139.0 L142.4 140.2 L140.9 138.3ZM150.8 137.9 L152.3 139.9 L148.6 141.1 L147.2 139.1ZM157.1 138.8 L158.5 140.7 L154.8 142.0 L153.4 140.0ZM163.4 139.7 L164.8 141.6 L161.1 142.8 L159.7 140.9ZM169.7 140.5 L171.0 142.5 L167.3 143.7 L165.9 141.8ZM175.9 141.4 L177.3 143.3 L173.5 144.6 L172.2 142.6ZM182.2 142.3 L183.5 144.2 L179.8 145.4 L178.4 143.5ZM188.5 143.1 L189.8 145.1 L186.0 146.3 L184.7 144.4ZM194.7 144.0 L196.0 146.0 L192.2 147.2 L190.9 145.2ZM201.0 144.9 L202.3 146.8 L198.5 148.0 L197.2 146.1ZM207.3 145.8 L208.6 147.7 L204.7 148.9 L203.4 147.0ZM213.6 146.6 L214.8 148.6 L210.9 149.8 L209.7 147.9ZM219.8 147.5 L221.1 149.4 L217.2 150.7 L215.9 148.7ZM226.1 148.4 L227.3 150.3 L223.4 151.5 L222.2 149.6ZM121.3 135.9 L122.9 137.9 L119.3 139.1 L117.8 137.2ZM127.6 136.8 L129.1 138.8 L125.5 140.0 L124.0 138.0ZM133.8 137.7 L135.3 139.6 L131.7 140.9 L130.2 138.9ZM140.1 138.5 L141.6 140.5 L137.9 141.7 L136.4 139.8ZM146.3 139.4 L147.8 141.4 L144.1 142.6 L142.7 140.7ZM152.6 140.3 L154.0 142.2 L150.3 143.5 L148.9 141.5ZM158.8 141.2 L160.2 143.1 L156.5 144.3 L155.1 142.4ZM165.1 142.0 L166.5 144.0 L162.8 145.2 L161.4 143.3ZM171.3 142.9 L172.7 144.8 L169.0 146.1 L167.6 144.1ZM177.6 143.8 L178.9 145.7 L175.2 146.9 L173.8 145.0ZM183.8 144.6 L185.2 146.6 L181.4 147.8 L180.1 145.9ZM190.1 145.5 L191.4 147.4 L187.6 148.7 L186.3 146.7ZM196.3 146.4 L197.6 148.3 L193.8 149.5 L192.5 147.6ZM202.6 147.2 L203.9 149.2 L200.0 150.4 L198.7 148.5ZM208.8 148.1 L210.1 150.1 L206.2 151.3 L205.0 149.3ZM215.1 149.0 L216.3 150.9 L212.4 152.1 L211.2 150.2ZM221.3 149.9 L222.5 151.8 L218.6 153.0 L217.4 151.1ZM117.0 137.5 L118.5 139.4 L114.9 140.6 L113.4 138.7ZM123.2 138.3 L124.7 140.3 L121.1 141.5 L119.6 139.6ZM129.4 139.2 L130.9 141.1 L127.3 142.4 L125.8 140.4ZM135.7 140.1 L137.1 142.0 L133.5 143.2 L132.0 141.3ZM141.9 140.9 L143.3 142.9 L139.7 144.1 L138.2 142.2ZM148.1 141.8 L149.5 143.7 L145.9 145.0 L144.4 143.0ZM154.3 142.7 L155.7 144.6 L152.0 145.8 L150.6 143.9ZM160.6 143.5 L161.9 145.5 L158.2 146.7 L156.8 144.8ZM166.8 144.4 L168.1 146.3 L164.4 147.6 L163.1 145.6ZM173.0 145.3 L174.3 147.2 L170.6 148.4 L169.3 146.5ZM179.2 146.1 L180.6 148.1 L176.8 149.3 L175.5 147.4ZM185.5 147.0 L186.8 148.9 L183.0 150.2 L181.7 148.2ZM191.7 147.9 L193.0 149.8 L189.2 151.0 L187.9 149.1ZM197.9 148.7 L199.2 150.7 L195.4 151.9 L194.1 150.0ZM204.1 149.6 L205.4 151.5 L201.5 152.8 L200.3 150.8ZM210.4 150.5 L211.6 152.4 L207.7 153.6 L206.5 151.7ZM216.6 151.3 L217.8 153.3 L213.9 154.5 L212.7 152.6ZM222.8 152.2 L224.0 154.1 L220.1 155.4 L218.9 153.4ZM118.8 139.8 L120.3 141.8 L116.8 143.0 L115.3 141.1ZM125.0 140.7 L126.5 142.7 L122.9 143.9 L121.4 141.9ZM131.2 141.6 L132.7 143.5 L129.1 144.8 L127.6 142.8ZM137.4 142.4 L138.9 144.4 L135.2 145.6 L133.8 143.7ZM143.6 143.3 L145.1 145.2 L141.4 146.5 L140.0 144.5ZM149.8 144.2 L151.2 146.1 L147.6 147.3 L146.2 145.4ZM156.0 145.0 L157.4 147.0 L153.7 148.2 L152.4 146.3ZM162.2 145.9 L163.6 147.8 L159.9 149.1 L158.5 147.1ZM168.4 146.8 L169.8 148.7 L166.1 149.9 L164.7 148.0ZM174.6 147.6 L176.0 149.6 L172.2 150.8 L170.9 148.9ZM180.8 148.5 L182.1 150.4 L178.4 151.7 L177.1 149.7ZM187.0 149.4 L188.3 151.3 L184.6 152.5 L183.3 150.6ZM193.2 150.2 L194.5 152.2 L190.7 153.4 L189.4 151.5ZM199.4 151.1 L200.7 153.0 L196.9 154.3 L195.6 152.3ZM205.6 152.0 L206.9 153.9 L203.0 155.1 L201.8 153.2ZM211.9 152.8 L213.1 154.8 L209.2 156.0 L208.0 154.0ZM218.1 153.7 L219.2 155.6 L215.4 156.8 L214.2 154.9ZM114.5 141.4 L116.0 143.3 L112.4 144.5 L110.9 142.6ZM120.7 142.2 L122.1 144.2 L118.6 145.4 L117.1 143.5ZM126.8 143.1 L128.3 145.0 L124.7 146.3 L123.2 144.3ZM133.0 143.9 L134.5 145.9 L130.8 147.1 L129.4 145.2ZM139.2 144.8 L140.6 146.8 L137.0 148.0 L135.6 146.0ZM145.4 145.7 L146.8 147.6 L143.1 148.9 L141.7 146.9ZM151.5 146.5 L152.9 148.5 L149.3 149.7 L147.9 147.8ZM157.7 147.4 L159.1 149.3 L155.4 150.6 L154.0 148.6ZM163.9 148.3 L165.2 150.2 L161.5 151.4 L160.2 149.5ZM170.1 149.1 L171.4 151.1 L167.7 152.3 L166.4 150.4ZM176.3 150.0 L177.6 151.9 L173.8 153.2 L172.5 151.2ZM182.4 150.9 L183.7 152.8 L180.0 154.0 L178.7 152.1ZM188.6 151.7 L189.9 153.7 L186.1 154.9 L184.8 152.9ZM194.8 152.6 L196.0 154.5 L192.2 155.7 L191.0 153.8ZM201.0 153.5 L202.2 155.4 L198.4 156.6 L197.1 154.7ZM207.1 154.3 L208.4 156.2 L204.5 157.5 L203.3 155.5ZM213.3 155.2 L214.5 157.1 L210.7 158.3 L209.5 156.4ZM219.5 156.0 L220.7 158.0 L216.8 159.2 L215.6 157.3ZM116.3 143.7 L117.8 145.7 L114.2 146.9 L112.8 145.0ZM122.5 144.6 L123.9 146.5 L120.3 147.8 L118.9 145.8ZM128.6 145.5 L130.1 147.4 L126.5 148.6 L125.0 146.7ZM134.8 146.3 L136.2 148.3 L132.6 149.5 L131.2 147.6ZM140.9 147.2 L142.3 149.1 L138.7 150.4 L137.3 148.4ZM147.1 148.0 L148.5 150.0 L144.8 151.2 L143.4 149.3ZM153.2 148.9 L154.6 150.8 L150.9 152.1 L149.6 150.1ZM159.4 149.8 L160.7 151.7 L157.0 152.9 L155.7 151.0ZM165.5 150.6 L166.9 152.6 L163.2 153.8 L161.8 151.9ZM171.7 151.5 L173.0 153.4 L169.3 154.7 L168.0 152.7ZM177.8 152.4 L179.1 154.3 L175.4 155.5 L174.1 153.6ZM184.0 153.2 L185.3 155.2 L181.5 156.4 L180.2 154.4ZM190.2 154.1 L191.4 156.0 L187.6 157.2 L186.4 155.3ZM196.3 154.9 L197.5 156.9 L193.7 158.1 L192.5 156.2ZM202.5 155.8 L203.7 157.7 L199.9 159.0 L198.6 157.0ZM208.6 156.7 L209.8 158.6 L206.0 159.8 L204.8 157.9ZM214.8 157.5 L215.9 159.5 L212.1 160.7 L210.9 158.8ZM112.0 145.3 L113.5 147.2 L109.9 148.4 L108.4 146.5ZM118.1 146.1 L119.6 148.1 L116.0 149.3 L114.6 147.4ZM124.2 147.0 L125.7 148.9 L122.1 150.2 L120.7 148.2ZM130.4 147.8 L131.8 149.8 L128.2 151.0 L126.8 149.1ZM136.5 148.7 L137.9 150.6 L134.3 151.9 L132.9 149.9ZM142.6 149.6 L144.0 151.5 L140.4 152.7 L139.0 150.8ZM148.8 150.4 L150.1 152.4 L146.5 153.6 L145.1 151.7ZM154.9 151.3 L156.2 153.2 L152.6 154.4 L151.2 152.5ZM161.0 152.1 L162.3 154.1 L158.7 155.3 L157.3 153.4ZM167.2 153.0 L168.5 154.9 L164.8 156.2 L163.5 154.2ZM173.3 153.9 L174.6 155.8 L170.8 157.0 L169.6 155.1ZM179.4 154.7 L180.7 156.6 L176.9 157.9 L175.7 155.9ZM185.5 155.6 L186.8 157.5 L183.0 158.7 L181.8 156.8ZM191.7 156.4 L192.9 158.4 L189.1 159.6 L187.9 157.7ZM197.8 157.3 L199.0 159.2 L195.2 160.5 L194.0 158.5ZM203.9 158.2 L205.1 160.1 L201.3 161.3 L200.1 159.4ZM210.1 159.0 L211.2 160.9 L207.4 162.2 L206.2 160.2ZM216.2 159.9 L217.4 161.8 L213.5 163.0 L212.3 161.1ZM113.8 147.6 L115.2 149.6 L111.7 150.8 L110.2 148.9ZM119.9 148.5 L121.3 150.4 L117.8 151.7 L116.3 149.7ZM126.0 149.3 L127.4 151.3 L123.8 152.5 L122.4 150.6ZM132.1 150.2 L133.5 152.2 L129.9 153.4 L128.5 151.4ZM138.2 151.1 L139.6 153.0 L136.0 154.2 L134.6 152.3ZM144.3 151.9 L145.7 153.9 L142.1 155.1 L140.7 153.2ZM150.4 152.8 L151.8 154.7 L148.1 156.0 L146.8 154.0ZM156.5 153.6 L157.9 155.6 L154.2 156.8 L152.9 154.9ZM162.6 154.5 L163.9 156.4 L160.3 157.7 L159.0 155.7ZM168.7 155.4 L170.0 157.3 L166.3 158.5 L165.0 156.6ZM174.9 156.2 L176.1 158.1 L172.4 159.4 L171.1 157.4ZM181.0 157.1 L182.2 159.0 L178.5 160.2 L177.2 158.3ZM187.1 157.9 L188.3 159.9 L184.5 161.1 L183.3 159.2ZM193.2 158.8 L194.4 160.7 L190.6 161.9 L189.4 160.0ZM199.3 159.6 L200.5 161.6 L196.7 162.8 L195.5 160.9ZM205.4 160.5 L206.6 162.4 L202.7 163.7 L201.6 161.7ZM211.5 161.4 L212.7 163.3 L208.8 164.5 L207.7 162.6ZM109.5 149.2 L110.9 151.1 L107.4 152.3 L106.0 150.4ZM115.6 150.0 L117.0 152.0 L113.5 153.2 L112.0 151.3ZM121.6 150.9 L123.1 152.8 L119.5 154.1 L118.1 152.1ZM127.7 151.7 L129.1 153.7 L125.6 154.9 L124.2 153.0ZM133.8 152.6 L135.2 154.5 L131.6 155.8 L130.2 153.8ZM139.9 153.4 L141.3 155.4 L137.7 156.6 L136.3 154.7ZM146.0 154.3 L147.3 156.2 L143.7 157.5 L142.4 155.5ZM152.1 155.1 L153.4 157.1 L149.7 158.3 L148.4 156.4ZM158.1 156.0 L159.5 157.9 L155.8 159.2 L154.5 157.2ZM164.2 156.9 L165.5 158.8 L161.8 160.0 L160.5 158.1ZM170.3 157.7 L171.6 159.6 L167.9 160.9 L166.6 158.9ZM176.4 158.6 L177.6 160.5 L173.9 161.7 L172.7 159.8ZM182.5 159.4 L183.7 161.4 L180.0 162.6 L178.7 160.7ZM188.6 160.3 L189.8 162.2 L186.0 163.4 L184.8 161.5ZM194.7 161.1 L195.8 163.1 L192.1 164.3 L190.9 162.4ZM200.7 162.0 L201.9 163.9 L198.1 165.1 L196.9 163.2ZM206.8 162.9 L208.0 164.8 L204.2 166.0 L203.0 164.1ZM212.9 163.7 L214.0 165.6 L210.2 166.9 L209.1 164.9ZM111.3 151.5 L112.7 153.5 L109.2 154.7 L107.7 152.8ZM117.3 152.4 L118.7 154.3 L115.2 155.6 L113.8 153.6ZM123.4 153.2 L124.8 155.2 L121.2 156.4 L119.8 154.5ZM129.4 154.1 L130.8 156.0 L127.3 157.3 L125.9 155.3ZM135.5 154.9 L136.9 156.9 L133.3 158.1 L131.9 156.2ZM141.6 155.8 L142.9 157.7 L139.3 159.0 L137.9 157.0ZM147.6 156.7 L148.9 158.6 L145.3 159.8 L144.0 157.9ZM153.7 157.5 L155.0 159.4 L151.3 160.7 L150.0 158.7ZM159.7 158.4 L161.0 160.3 L157.4 161.5 L156.1 159.6ZM165.8 159.2 L167.1 161.2 L163.4 162.4 L162.1 160.5ZM171.9 160.1 L173.1 162.0 L169.4 163.2 L168.2 161.3ZM177.9 160.9 L179.2 162.9 L175.4 164.1 L174.2 162.2ZM184.0 161.8 L185.2 163.7 L181.4 164.9 L180.2 163.0ZM190.0 162.6 L191.2 164.6 L187.5 165.8 L186.3 163.9ZM196.1 163.5 L197.3 165.4 L193.5 166.6 L192.3 164.7ZM202.2 164.3 L203.3 166.3 L199.5 167.5 L198.4 165.6ZM208.2 165.2 L209.4 167.1 L205.5 168.3 L204.4 166.4Z" fill="#ffffff" opacity="1.00" filter="url(#soft)"/></g>
<polygon points="126.4,641.5 144,636 145,637.5 152,636.5 151,633.5 157.7,631.4 199.7,648.2 190.2,652 174,645.2 161.4,649 175.2,657.7 167.7,660.4" fill="#27282b" stroke="#27282b" stroke-width="1" stroke-linejoin="round"/>
<text x="146.8" y="643.6" font-family="Liberation Sans, sans-serif" font-weight="700" font-size="4.1" fill="#d8d8d8" transform="rotate(-13 146.8 643.6)">JCBritw</text>
<polygon points="146.2,628 151.1,628 151.1,640 146.3,640" fill="#1b1b1d"/>
<polygon points="358.0,133.6 458.9,145.1 457.4,207.3 352.7,212.4" fill="#6c7176"/>
<polygon points="361.8,135.6 458.0,146.2 457.6,199.5 361.3,199.8" fill="#e6e8ea"/>
<clipPath id="c4"><polygon points="361.8,135.6 458.0,146.2 457.6,199.5 361.3,199.8"/></clipPath>
<g clip-path="url(#c4)"><path d="M366.0 136.6 L367.4 139.9 L367.4 145.2 L365.9 148.3 L364.6 144.9 L364.6 139.7ZM371.7 137.2 L373.1 140.5 L373.0 145.7 L371.6 148.8 L370.2 145.5 L370.3 140.2ZM377.4 137.8 L378.7 141.1 L378.7 146.3 L377.3 149.3 L375.9 146.0 L375.9 140.8ZM383.0 138.4 L384.4 141.7 L384.4 146.8 L382.9 149.8 L381.5 146.5 L381.6 141.4ZM388.7 139.1 L390.1 142.3 L390.0 147.3 L388.6 150.3 L387.2 147.1 L387.2 142.0ZM394.3 139.7 L395.7 142.9 L395.7 147.9 L394.2 150.8 L392.9 147.6 L392.9 142.6ZM400.0 140.3 L401.4 143.5 L401.3 148.4 L399.9 151.3 L398.5 148.1 L398.6 143.2ZM405.7 140.9 L407.0 144.0 L407.0 148.9 L405.6 151.8 L404.2 148.7 L404.2 143.8ZM411.3 141.5 L412.7 144.6 L412.7 149.5 L411.2 152.3 L409.8 149.2 L409.9 144.3ZM417.0 142.1 L418.4 145.2 L418.3 150.0 L416.9 152.8 L415.5 149.7 L415.5 144.9ZM422.6 142.8 L424.0 145.8 L424.0 150.5 L422.5 153.3 L421.2 150.3 L421.2 145.5ZM428.3 143.4 L429.7 146.4 L429.6 151.1 L428.2 153.8 L426.8 150.8 L426.9 146.1ZM433.9 144.0 L435.3 147.0 L435.3 151.6 L433.9 154.3 L432.5 151.3 L432.5 146.7ZM439.6 144.6 L441.0 147.6 L441.0 152.1 L439.5 154.8 L438.1 151.9 L438.2 147.3ZM445.3 145.2 L446.7 148.2 L446.6 152.7 L445.2 155.3 L443.8 152.4 L443.8 147.9ZM450.9 145.9 L452.3 148.7 L452.3 153.2 L450.8 155.8 L449.5 152.9 L449.5 148.4ZM456.6 146.5 L458.0 149.3 L457.9 153.7 L456.5 156.3 L455.1 153.5 L455.1 149.0ZM363.1 149.1 L364.5 152.4 L364.5 157.7 L363.0 160.9 L361.6 157.5 L361.7 152.2ZM368.8 149.6 L370.2 152.9 L370.1 158.1 L368.7 161.2 L367.3 157.9 L367.3 152.7ZM374.4 150.1 L375.8 153.3 L375.8 158.5 L374.3 161.6 L373.0 158.3 L373.0 153.1ZM380.1 150.5 L381.5 153.8 L381.4 158.9 L380.0 162.0 L378.6 158.7 L378.7 153.6ZM385.8 151.0 L387.1 154.3 L387.1 159.3 L385.7 162.3 L384.3 159.1 L384.3 154.0ZM391.4 151.5 L392.8 154.7 L392.8 159.7 L391.3 162.7 L389.9 159.5 L390.0 154.5ZM397.1 152.0 L398.5 155.2 L398.4 160.1 L397.0 163.1 L395.6 159.9 L395.6 154.9ZM402.7 152.5 L404.1 155.6 L404.1 160.6 L402.6 163.5 L401.3 160.4 L401.3 155.4ZM408.4 153.0 L409.8 156.1 L409.7 161.0 L408.3 163.8 L406.9 160.8 L407.0 155.9ZM414.1 153.5 L415.4 156.6 L415.4 161.4 L414.0 164.2 L412.6 161.2 L412.6 156.3ZM419.7 154.0 L421.1 157.0 L421.1 161.8 L419.6 164.6 L418.2 161.6 L418.3 156.8ZM425.4 154.5 L426.8 157.5 L426.7 162.2 L425.3 165.0 L423.9 162.0 L423.9 157.2ZM431.0 155.0 L432.4 157.9 L432.4 162.6 L431.0 165.3 L429.6 162.4 L429.6 157.7ZM436.7 155.4 L438.1 158.4 L438.1 163.0 L436.6 165.7 L435.2 162.8 L435.3 158.2ZM442.4 155.9 L443.7 158.8 L443.7 163.4 L442.3 166.1 L440.9 163.2 L440.9 158.6ZM448.0 156.4 L449.4 159.3 L449.4 163.8 L447.9 166.4 L446.5 163.6 L446.6 159.1ZM453.7 156.9 L455.1 159.8 L455.0 164.2 L453.6 166.8 L452.2 164.0 L452.2 159.5ZM365.8 162.1 L367.2 165.4 L367.2 170.6 L365.8 173.8 L364.4 170.5 L364.4 165.2ZM371.5 162.4 L372.9 165.7 L372.9 170.9 L371.4 174.0 L370.0 170.8 L370.1 165.5ZM377.2 162.8 L378.6 166.0 L378.5 171.2 L377.1 174.3 L375.7 171.0 L375.7 165.9ZM382.8 163.2 L384.2 166.4 L384.2 171.5 L382.7 174.5 L381.3 171.3 L381.4 166.2ZM388.5 163.5 L389.9 166.7 L389.8 171.7 L388.4 174.8 L387.0 171.6 L387.0 166.5ZM394.1 163.9 L395.5 167.0 L395.5 172.0 L394.1 175.0 L392.7 171.9 L392.7 166.9ZM399.8 164.2 L401.2 167.3 L401.2 172.3 L399.7 175.3 L398.3 172.2 L398.4 167.2ZM405.5 164.6 L406.9 167.7 L406.8 172.6 L405.4 175.5 L404.0 172.4 L404.0 167.5ZM411.1 165.0 L412.5 168.0 L412.5 172.8 L411.0 175.7 L409.7 172.7 L409.7 167.8ZM416.8 165.3 L418.2 168.3 L418.1 173.1 L416.7 176.0 L415.3 173.0 L415.4 168.2ZM422.5 165.7 L423.8 168.7 L423.8 173.4 L422.4 176.2 L421.0 173.3 L421.0 168.5ZM428.1 166.0 L429.5 169.0 L429.5 173.7 L428.0 176.5 L426.6 173.5 L426.7 168.8ZM433.8 166.4 L435.2 169.3 L435.1 174.0 L433.7 176.7 L432.3 173.8 L432.3 169.2ZM439.4 166.8 L440.8 169.7 L440.8 174.2 L439.4 177.0 L438.0 174.1 L438.0 169.5ZM445.1 167.1 L446.5 170.0 L446.5 174.5 L445.0 177.2 L443.6 174.4 L443.7 169.8ZM450.8 167.5 L452.2 170.3 L452.1 174.8 L450.7 177.4 L449.3 174.6 L449.3 170.1ZM456.4 167.9 L457.8 170.6 L457.8 175.1 L456.3 177.7 L455.0 174.9 L455.0 170.5ZM362.9 174.7 L364.3 178.0 L364.3 183.3 L362.8 186.5 L361.4 183.2 L361.5 177.9ZM368.6 174.9 L370.0 178.2 L369.9 183.4 L368.5 186.6 L367.1 183.3 L367.1 178.1ZM374.2 175.2 L375.6 178.4 L375.6 183.6 L374.1 186.7 L372.8 183.5 L372.8 178.3ZM379.9 175.4 L381.3 178.6 L381.3 183.7 L379.8 186.8 L378.4 183.6 L378.5 178.5ZM385.6 175.6 L387.0 178.8 L386.9 183.9 L385.5 186.9 L384.1 183.8 L384.1 178.7ZM391.2 175.9 L392.6 179.0 L392.6 184.0 L391.1 187.1 L389.7 183.9 L389.8 178.9ZM396.9 176.1 L398.3 179.2 L398.2 184.2 L396.8 187.2 L395.4 184.1 L395.4 179.1ZM402.5 176.3 L403.9 179.4 L403.9 184.3 L402.5 187.3 L401.1 184.2 L401.1 179.3ZM408.2 176.6 L409.6 179.6 L409.6 184.5 L408.1 187.4 L406.7 184.4 L406.8 179.5ZM413.9 176.8 L415.3 179.8 L415.2 184.6 L413.8 187.5 L412.4 184.5 L412.4 179.7ZM419.5 177.0 L420.9 180.0 L420.9 184.8 L419.5 187.6 L418.1 184.7 L418.1 179.9ZM425.2 177.3 L426.6 180.2 L426.6 184.9 L425.1 187.7 L423.7 184.8 L423.8 180.1ZM430.9 177.5 L432.3 180.4 L432.2 185.0 L430.8 187.9 L429.4 185.0 L429.4 180.3ZM436.5 177.7 L437.9 180.6 L437.9 185.2 L436.4 188.0 L435.1 185.1 L435.1 180.5ZM442.2 178.0 L443.6 180.8 L443.5 185.3 L442.1 188.1 L440.7 185.3 L440.7 180.7ZM447.8 178.2 L449.2 181.0 L449.2 185.5 L447.8 188.2 L446.4 185.4 L446.4 180.9ZM453.5 178.4 L454.9 181.2 L454.9 185.6 L453.4 188.3 L452.0 185.6 L452.1 181.1ZM365.6 187.6 L367.0 190.8 L367.0 196.1 L365.6 199.3 L364.2 196.0 L364.2 190.8ZM371.3 187.7 L372.7 190.9 L372.7 196.1 L371.2 199.3 L369.8 196.1 L369.9 190.8ZM377.0 187.8 L378.4 190.9 L378.3 196.1 L376.9 199.3 L375.5 196.1 L375.5 190.9ZM382.6 187.9 L384.0 191.0 L384.0 196.1 L382.5 199.2 L381.2 196.1 L381.2 191.0ZM388.3 188.0 L389.7 191.1 L389.7 196.1 L388.2 199.2 L386.8 196.1 L386.9 191.1ZM394.0 188.1 L395.4 191.2 L395.3 196.2 L393.9 199.2 L392.5 196.1 L392.5 191.1ZM399.6 188.2 L401.0 191.2 L401.0 196.2 L399.5 199.2 L398.1 196.2 L398.2 191.2ZM405.3 188.3 L406.7 191.3 L406.6 196.2 L405.2 199.2 L403.8 196.2 L403.8 191.3ZM411.0 188.4 L412.3 191.4 L412.3 196.2 L410.9 199.2 L409.5 196.2 L409.5 191.3ZM416.6 188.5 L418.0 191.5 L418.0 196.2 L416.5 199.2 L415.1 196.2 L415.2 191.4ZM422.3 188.6 L423.7 191.5 L423.6 196.3 L422.2 199.2 L420.8 196.2 L420.8 191.5ZM427.9 188.7 L429.3 191.6 L429.3 196.3 L427.9 199.1 L426.5 196.3 L426.5 191.6ZM433.6 188.8 L435.0 191.7 L435.0 196.3 L433.5 199.1 L432.1 196.3 L432.2 191.6ZM439.3 188.9 L440.7 191.7 L440.6 196.3 L439.2 199.1 L437.8 196.3 L437.8 191.7ZM444.9 189.0 L446.3 191.8 L446.3 196.3 L444.9 199.1 L443.5 196.3 L443.5 191.8ZM450.6 189.1 L452.0 191.9 L452.0 196.4 L450.5 199.1 L449.1 196.3 L449.2 191.9ZM456.3 189.2 L457.7 192.0 L457.6 196.4 L456.2 199.1 L454.8 196.4 L454.8 191.9Z" fill="#c3c6ca" filter="url(#soft)"/><path d="M363.2 136.3 L364.6 139.7 L364.6 144.9 L363.1 148.1 L361.7 144.7 L361.8 139.4ZM368.9 136.9 L370.3 140.2 L370.2 145.5 L368.8 148.6 L367.4 145.2 L367.4 139.9ZM374.5 137.5 L375.9 140.8 L375.9 146.0 L374.4 149.1 L373.0 145.7 L373.1 140.5ZM380.2 138.1 L381.6 141.4 L381.5 146.5 L380.1 149.6 L378.7 146.3 L378.7 141.1ZM385.8 138.7 L387.2 142.0 L387.2 147.1 L385.8 150.1 L384.4 146.8 L384.4 141.7ZM391.5 139.4 L392.9 142.6 L392.9 147.6 L391.4 150.6 L390.0 147.3 L390.1 142.3ZM397.2 140.0 L398.6 143.2 L398.5 148.1 L397.1 151.1 L395.7 147.9 L395.7 142.9ZM402.8 140.6 L404.2 143.8 L404.2 148.7 L402.7 151.6 L401.3 148.4 L401.4 143.5ZM408.5 141.2 L409.9 144.3 L409.8 149.2 L408.4 152.1 L407.0 148.9 L407.0 144.0ZM414.1 141.8 L415.5 144.9 L415.5 149.7 L414.1 152.6 L412.7 149.5 L412.7 144.6ZM419.8 142.5 L421.2 145.5 L421.2 150.3 L419.7 153.1 L418.3 150.0 L418.4 145.2ZM425.5 143.1 L426.9 146.1 L426.8 150.8 L425.4 153.6 L424.0 150.5 L424.0 145.8ZM431.1 143.7 L432.5 146.7 L432.5 151.3 L431.0 154.1 L429.6 151.1 L429.7 146.4ZM436.8 144.3 L438.2 147.3 L438.1 151.9 L436.7 154.6 L435.3 151.6 L435.3 147.0ZM442.4 144.9 L443.8 147.9 L443.8 152.4 L442.4 155.1 L441.0 152.1 L441.0 147.6ZM448.1 145.5 L449.5 148.4 L449.5 152.9 L448.0 155.6 L446.6 152.7 L446.7 148.2ZM453.8 146.2 L455.1 149.0 L455.1 153.5 L453.7 156.1 L452.3 153.2 L452.3 148.7ZM365.9 149.3 L367.3 152.7 L367.3 157.9 L365.8 161.0 L364.5 157.7 L364.5 152.4ZM371.6 149.8 L373.0 153.1 L373.0 158.3 L371.5 161.4 L370.1 158.1 L370.2 152.9ZM377.3 150.3 L378.7 153.6 L378.6 158.7 L377.2 161.8 L375.8 158.5 L375.8 153.3ZM382.9 150.8 L384.3 154.0 L384.3 159.1 L382.8 162.2 L381.4 158.9 L381.5 153.8ZM388.6 151.3 L390.0 154.5 L389.9 159.5 L388.5 162.5 L387.1 159.3 L387.1 154.3ZM394.2 151.8 L395.6 154.9 L395.6 159.9 L394.2 162.9 L392.8 159.7 L392.8 154.7ZM399.9 152.3 L401.3 155.4 L401.3 160.4 L399.8 163.3 L398.4 160.1 L398.5 155.2ZM405.6 152.8 L407.0 155.9 L406.9 160.8 L405.5 163.7 L404.1 160.6 L404.1 155.6ZM411.2 153.2 L412.6 156.3 L412.6 161.2 L411.1 164.0 L409.7 161.0 L409.8 156.1ZM416.9 153.7 L418.3 156.8 L418.2 161.6 L416.8 164.4 L415.4 161.4 L415.4 156.6ZM422.5 154.2 L423.9 157.2 L423.9 162.0 L422.5 164.8 L421.1 161.8 L421.1 157.0ZM428.2 154.7 L429.6 157.7 L429.6 162.4 L428.1 165.1 L426.7 162.2 L426.8 157.5ZM433.9 155.2 L435.3 158.2 L435.2 162.8 L433.8 165.5 L432.4 162.6 L432.4 157.9ZM439.5 155.7 L440.9 158.6 L440.9 163.2 L439.4 165.9 L438.1 163.0 L438.1 158.4ZM445.2 156.2 L446.6 159.1 L446.5 163.6 L445.1 166.3 L443.7 163.4 L443.7 158.8ZM450.8 156.7 L452.2 159.5 L452.2 164.0 L450.8 166.6 L449.4 163.8 L449.4 159.3ZM456.5 157.2 L457.9 160.0 L457.9 164.4 L456.4 167.0 L455.0 164.2 L455.1 159.8ZM363.0 161.9 L364.4 165.2 L364.4 170.5 L362.9 173.7 L361.5 170.4 L361.6 165.0ZM368.7 162.2 L370.1 165.5 L370.0 170.8 L368.6 173.9 L367.2 170.6 L367.2 165.4ZM374.3 162.6 L375.7 165.9 L375.7 171.0 L374.2 174.2 L372.9 170.9 L372.9 165.7ZM380.0 163.0 L381.4 166.2 L381.3 171.3 L379.9 174.4 L378.5 171.2 L378.6 166.0ZM385.7 163.3 L387.0 166.5 L387.0 171.6 L385.6 174.6 L384.2 171.5 L384.2 166.4ZM391.3 163.7 L392.7 166.9 L392.7 171.9 L391.2 174.9 L389.8 171.7 L389.9 166.7ZM397.0 164.1 L398.4 167.2 L398.3 172.2 L396.9 175.1 L395.5 172.0 L395.5 167.0ZM402.6 164.4 L404.0 167.5 L404.0 172.4 L402.6 175.4 L401.2 172.3 L401.2 167.3ZM408.3 164.8 L409.7 167.8 L409.7 172.7 L408.2 175.6 L406.8 172.6 L406.9 167.7ZM414.0 165.1 L415.4 168.2 L415.3 173.0 L413.9 175.9 L412.5 172.8 L412.5 168.0ZM419.6 165.5 L421.0 168.5 L421.0 173.3 L419.5 176.1 L418.1 173.1 L418.2 168.3ZM425.3 165.9 L426.7 168.8 L426.6 173.5 L425.2 176.4 L423.8 173.4 L423.8 168.7ZM430.9 166.2 L432.3 169.2 L432.3 173.8 L430.9 176.6 L429.5 173.7 L429.5 169.0ZM436.6 166.6 L438.0 169.5 L438.0 174.1 L436.5 176.8 L435.1 174.0 L435.2 169.3ZM442.3 167.0 L443.7 169.8 L443.6 174.4 L442.2 177.1 L440.8 174.2 L440.8 169.7ZM447.9 167.3 L449.3 170.1 L449.3 174.6 L447.9 177.3 L446.5 174.5 L446.5 170.0ZM453.6 167.7 L455.0 170.5 L455.0 174.9 L453.5 177.6 L452.1 174.8 L452.2 170.3ZM365.7 174.8 L367.1 178.1 L367.1 183.3 L365.7 186.5 L364.3 183.3 L364.3 178.0ZM371.4 175.0 L372.8 178.3 L372.8 183.5 L371.3 186.6 L369.9 183.4 L370.0 178.2ZM377.1 175.3 L378.5 178.5 L378.4 183.6 L377.0 186.8 L375.6 183.6 L375.6 178.4ZM382.7 175.5 L384.1 178.7 L384.1 183.8 L382.6 186.9 L381.3 183.7 L381.3 178.6ZM388.4 175.7 L389.8 178.9 L389.7 183.9 L388.3 187.0 L386.9 183.9 L387.0 178.8ZM394.1 176.0 L395.4 179.1 L395.4 184.1 L394.0 187.1 L392.6 184.0 L392.6 179.0ZM399.7 176.2 L401.1 179.3 L401.1 184.2 L399.6 187.2 L398.2 184.2 L398.3 179.2ZM405.4 176.4 L406.8 179.5 L406.7 184.4 L405.3 187.3 L403.9 184.3 L403.9 179.4ZM411.0 176.7 L412.4 179.7 L412.4 184.5 L411.0 187.5 L409.6 184.5 L409.6 179.6ZM416.7 176.9 L418.1 179.9 L418.1 184.7 L416.6 187.6 L415.2 184.6 L415.3 179.8ZM422.4 177.1 L423.8 180.1 L423.7 184.8 L422.3 187.7 L420.9 184.8 L420.9 180.0ZM428.0 177.4 L429.4 180.3 L429.4 185.0 L427.9 187.8 L426.6 184.9 L426.6 180.2ZM433.7 177.6 L435.1 180.5 L435.1 185.1 L433.6 187.9 L432.2 185.0 L432.3 180.4ZM439.4 177.8 L440.7 180.7 L440.7 185.3 L439.3 188.0 L437.9 185.2 L437.9 180.6ZM445.0 178.1 L446.4 180.9 L446.4 185.4 L444.9 188.2 L443.5 185.3 L443.6 180.8ZM450.7 178.3 L452.1 181.1 L452.0 185.6 L450.6 188.3 L449.2 185.5 L449.2 181.0ZM456.3 178.5 L457.7 181.3 L457.7 185.7 L456.3 188.4 L454.9 185.6 L454.9 181.2ZM362.8 187.5 L364.2 190.8 L364.2 196.0 L362.7 199.3 L361.3 196.0 L361.4 190.7ZM368.5 187.6 L369.9 190.8 L369.8 196.1 L368.4 199.3 L367.0 196.1 L367.0 190.8ZM374.1 187.7 L375.5 190.9 L375.5 196.1 L374.0 199.3 L372.7 196.1 L372.7 190.9ZM379.8 187.8 L381.2 191.0 L381.2 196.1 L379.7 199.2 L378.3 196.1 L378.4 190.9ZM385.5 187.9 L386.9 191.1 L386.8 196.1 L385.4 199.2 L384.0 196.1 L384.0 191.0ZM391.1 188.0 L392.5 191.1 L392.5 196.1 L391.0 199.2 L389.7 196.1 L389.7 191.1ZM396.8 188.1 L398.2 191.2 L398.1 196.2 L396.7 199.2 L395.3 196.2 L395.4 191.2ZM402.5 188.2 L403.8 191.3 L403.8 196.2 L402.4 199.2 L401.0 196.2 L401.0 191.2ZM408.1 188.3 L409.5 191.3 L409.5 196.2 L408.0 199.2 L406.6 196.2 L406.7 191.3ZM413.8 188.4 L415.2 191.4 L415.1 196.2 L413.7 199.2 L412.3 196.2 L412.3 191.4ZM419.4 188.6 L420.8 191.5 L420.8 196.2 L419.4 199.2 L418.0 196.2 L418.0 191.5ZM425.1 188.7 L426.5 191.6 L426.5 196.3 L425.0 199.1 L423.6 196.3 L423.7 191.5ZM430.8 188.8 L432.2 191.6 L432.1 196.3 L430.7 199.1 L429.3 196.3 L429.3 191.6ZM436.4 188.9 L437.8 191.7 L437.8 196.3 L436.4 199.1 L435.0 196.3 L435.0 191.7ZM442.1 189.0 L443.5 191.8 L443.5 196.3 L442.0 199.1 L440.6 196.3 L440.7 191.7ZM447.8 189.1 L449.2 191.9 L449.1 196.3 L447.7 199.1 L446.3 196.3 L446.3 191.8ZM453.4 189.2 L454.8 191.9 L454.8 196.4 L453.4 199.1 L452.0 196.4 L452.0 191.9Z" fill="#ffffff" opacity="1.00" filter="url(#soft)"/></g>
<path d="M416.5 247.5 C414.3 250.8 407.4 260.6 403.5 267.4 C399.6 274.2 396.1 281.5 392.9 288.5 C389.7 295.5 386.9 302.9 384.5 309.6 C382.1 316.3 380.2 322.8 378.2 328.5 C376.2 334.2 373.5 341.4 372.6 344.0" stroke="#1c1c1c" stroke-width="1.8" fill="none"/>
<path d="M364.5 372 C360.5 383 357 396 354.8 409" stroke="#8a9298" stroke-width="1.2" fill="none"/>
<path d="M408.6 386.5 C406.2 391.3 398.4 406.0 394.2 415.3 C390.0 424.6 386.5 433.8 383.4 442.4 C380.2 451.0 377.8 459.1 375.3 466.8 C372.8 474.5 370.6 481.7 368.5 488.5 C366.4 495.3 364.8 501.6 363.0 507.5 C361.2 513.4 359.2 518.8 357.6 523.7 C356.0 528.6 354.3 534.8 353.6 537.0" stroke="url(#cabfadeR)" stroke-width="1.9" fill="none"/>
<polygon points="395.8,237.6 419.4,239.0 419.4,245.2 395.8,243.8" fill="#666b70"/>
<path d="M405.3 245.4 L432 246.8 C420 251 410.5 262 405.8 276 Z" fill="#777c81"/>
<polygon points="407.1,297 411.6,297 410.2,398 406.0,398" fill="#1b1b1d"/>
<polygon points="403.8,444 410.2,444 408.9,598 402.6,598" fill="#1b1b1d"/>
<path d="M434.8 248.2 C421.5 252 415 266 414.3 283 L414.1 299 L405.7 299 L405.8 276 C407.5 262 412 251.5 420.5 246.2 Z" fill="#1b1b1d"/>
<path d="M426 376.2 C419.5 382 415 392 413.5 402 C412.8 408 412.5 420 412.1 436 L402.8 436 L404.4 410.6 C405 402 407 392 410.5 383.5 C412 380 414 377.5 416.6 375.6 Z" fill="#1b1b1d"/>
<rect x="402.3" y="435" width="9.9" height="11" rx="1" fill="#2c2c2e"/>
<polygon points="388.0,200.8 542.7,215.9 542.2,221.2 511.0,240.0 510.6,243.4 442.2,239.8 403.0,237.5 356.3,234.3 353.8,225.2" fill="#1b1b1d"/>
<polygon points="387.8,206.0 541.6,221.0 510.4,239.6 361.0,229.9" fill="#c9ccd0"/>
<clipPath id="c5"><polygon points="387.8,206.0 541.6,221.0 510.4,239.6 361.0,229.9"/></clipPath>
<g clip-path="url(#c5)"><path d="M394.2 204.8 L396.0 206.8 L390.5 208.1 L388.6 206.1ZM403.2 205.7 L405.1 207.7 L399.5 208.9 L397.7 207.0ZM412.3 206.6 L414.1 208.6 L408.5 209.8 L406.7 207.8ZM421.4 207.5 L423.2 209.4 L417.6 210.6 L415.8 208.7ZM430.4 208.4 L432.2 210.3 L426.6 211.5 L424.8 209.6ZM439.5 209.3 L441.3 211.2 L435.6 212.4 L433.8 210.5ZM448.6 210.2 L450.3 212.1 L444.7 213.2 L442.9 211.4ZM457.6 211.1 L459.4 213.0 L453.7 214.1 L451.9 212.3ZM466.7 212.0 L468.4 213.9 L462.7 215.0 L461.0 213.1ZM475.7 213.0 L477.5 214.7 L471.7 215.8 L470.0 214.0ZM484.8 213.9 L486.5 215.6 L480.8 216.7 L479.1 214.9ZM493.9 214.8 L495.6 216.5 L489.8 217.5 L488.1 215.8ZM502.9 215.7 L504.6 217.4 L498.8 218.4 L497.2 216.7ZM512.0 216.6 L513.6 218.3 L507.9 219.3 L506.2 217.6ZM521.1 217.5 L522.7 219.2 L516.9 220.1 L515.3 218.4ZM530.1 218.4 L531.7 220.0 L525.9 221.0 L524.3 219.3ZM539.2 219.3 L540.8 220.9 L535.0 221.8 L533.4 220.2ZM387.4 206.4 L389.3 208.3 L383.7 209.6 L381.9 207.6ZM396.4 207.2 L398.3 209.2 L392.7 210.5 L390.9 208.5ZM405.5 208.1 L407.3 210.1 L401.8 211.3 L399.9 209.4ZM414.5 209.0 L416.3 210.9 L410.8 212.1 L408.9 210.2ZM423.6 209.9 L425.4 211.8 L419.8 213.0 L418.0 211.1ZM432.6 210.7 L434.4 212.6 L428.8 213.8 L427.0 211.9ZM441.7 211.6 L443.4 213.5 L437.8 214.6 L436.0 212.8ZM450.7 212.5 L452.4 214.3 L446.8 215.5 L445.0 213.6ZM459.7 213.4 L461.5 215.2 L455.8 216.3 L454.1 214.5ZM468.8 214.3 L470.5 216.1 L464.8 217.1 L463.1 215.3ZM477.8 215.1 L479.5 216.9 L473.8 218.0 L472.1 216.2ZM486.9 216.0 L488.5 217.8 L482.8 218.8 L481.1 217.1ZM495.9 216.9 L497.6 218.6 L491.8 219.6 L490.2 217.9ZM505.0 217.8 L506.6 219.5 L500.8 220.5 L499.2 218.8ZM514.0 218.6 L515.6 220.3 L509.8 221.3 L508.2 219.6ZM523.0 219.5 L524.6 221.2 L518.9 222.2 L517.2 220.5ZM532.1 220.4 L533.7 222.0 L527.9 223.0 L526.3 221.3ZM541.1 221.3 L542.7 222.9 L536.9 223.8 L535.3 222.2ZM389.7 208.8 L391.5 210.7 L386.0 212.0 L384.1 210.1ZM398.7 209.6 L400.5 211.6 L395.0 212.8 L393.1 210.9ZM407.7 210.5 L409.5 212.4 L404.0 213.6 L402.2 211.7ZM416.7 211.3 L418.5 213.2 L413.0 214.4 L411.2 212.5ZM425.8 212.2 L427.5 214.1 L421.9 215.3 L420.2 213.4ZM434.8 213.0 L436.5 214.9 L430.9 216.1 L429.2 214.2ZM443.8 213.9 L445.6 215.7 L439.9 216.9 L438.2 215.0ZM452.8 214.7 L454.6 216.6 L448.9 217.7 L447.2 215.9ZM461.8 215.6 L463.6 217.4 L457.9 218.5 L456.2 216.7ZM470.9 216.4 L472.6 218.2 L466.9 219.3 L465.2 217.5ZM479.9 217.3 L481.6 219.0 L475.9 220.1 L474.2 218.4ZM488.9 218.1 L490.6 219.9 L484.8 220.9 L483.2 219.2ZM497.9 219.0 L499.6 220.7 L493.8 221.7 L492.2 220.0ZM507.0 219.8 L508.6 221.5 L502.8 222.5 L501.2 220.9ZM516.0 220.7 L517.6 222.4 L511.8 223.3 L510.2 221.7ZM525.0 221.6 L526.6 223.2 L520.8 224.2 L519.2 222.5ZM534.0 222.4 L535.6 224.0 L529.8 225.0 L528.2 223.3ZM382.9 210.3 L384.8 212.3 L379.3 213.6 L377.4 211.6ZM391.9 211.2 L393.8 213.1 L388.2 214.4 L386.4 212.4ZM400.9 212.0 L402.7 213.9 L397.2 215.2 L395.4 213.3ZM409.9 212.8 L411.7 214.7 L406.2 216.0 L404.4 214.1ZM418.9 213.6 L420.7 215.5 L415.1 216.7 L413.3 214.9ZM427.9 214.5 L429.7 216.3 L424.1 217.5 L422.3 215.7ZM436.9 215.3 L438.7 217.1 L433.1 218.3 L431.3 216.5ZM445.9 216.1 L447.7 217.9 L442.0 219.1 L440.3 217.3ZM454.9 216.9 L456.6 218.7 L451.0 219.9 L449.3 218.1ZM463.9 217.8 L465.6 219.5 L460.0 220.7 L458.3 218.9ZM472.9 218.6 L474.6 220.3 L468.9 221.4 L467.2 219.7ZM481.9 219.4 L483.6 221.2 L477.9 222.2 L476.2 220.5ZM490.9 220.3 L492.6 222.0 L486.8 223.0 L485.2 221.3ZM499.9 221.1 L501.6 222.8 L495.8 223.8 L494.2 222.1ZM508.9 221.9 L510.5 223.6 L504.8 224.6 L503.2 222.9ZM517.9 222.7 L519.5 224.4 L513.7 225.4 L512.2 223.7ZM526.9 223.6 L528.5 225.2 L522.7 226.1 L521.1 224.5ZM535.9 224.4 L537.5 226.0 L531.7 226.9 L530.1 225.3ZM385.2 212.7 L387.0 214.7 L381.5 216.0 L379.7 214.0ZM394.2 213.5 L396.0 215.5 L390.4 216.7 L388.6 214.8ZM403.1 214.3 L404.9 216.2 L399.4 217.5 L397.6 215.6ZM412.1 215.1 L413.9 217.0 L408.3 218.2 L406.6 216.4ZM421.1 215.9 L422.9 217.8 L417.3 219.0 L415.5 217.2ZM430.1 216.7 L431.8 218.6 L426.2 219.8 L424.5 217.9ZM439.1 217.5 L440.8 219.3 L435.2 220.5 L433.4 218.7ZM448.0 218.3 L449.7 220.1 L444.1 221.3 L442.4 219.5ZM457.0 219.1 L458.7 220.9 L453.1 222.0 L451.4 220.3ZM466.0 219.9 L467.7 221.7 L462.0 222.8 L460.3 221.0ZM475.0 220.7 L476.6 222.5 L470.9 223.5 L469.3 221.8ZM484.0 221.5 L485.6 223.2 L479.9 224.3 L478.2 222.6ZM492.9 222.3 L494.6 224.0 L488.8 225.1 L487.2 223.4ZM501.9 223.1 L503.5 224.8 L497.8 225.8 L496.2 224.2ZM510.9 223.9 L512.5 225.6 L506.7 226.6 L505.1 224.9ZM519.9 224.7 L521.4 226.4 L515.7 227.3 L514.1 225.7ZM528.8 225.5 L530.4 227.1 L524.6 228.1 L523.0 226.5ZM378.5 214.3 L380.3 216.3 L374.8 217.6 L373.0 215.6ZM387.4 215.1 L389.2 217.0 L383.7 218.3 L381.9 216.4ZM396.4 215.9 L398.2 217.8 L392.6 219.1 L390.8 217.2ZM405.3 216.6 L407.1 218.5 L401.6 219.8 L399.8 217.9ZM414.3 217.4 L416.1 219.3 L410.5 220.5 L408.7 218.7ZM423.2 218.2 L425.0 220.0 L419.4 221.2 L417.7 219.4ZM432.2 219.0 L433.9 220.8 L428.3 222.0 L426.6 220.2ZM441.2 219.7 L442.9 221.5 L437.3 222.7 L435.5 220.9ZM450.1 220.5 L451.8 222.3 L446.2 223.4 L444.5 221.7ZM459.1 221.3 L460.8 223.0 L455.1 224.2 L453.4 222.4ZM468.0 222.1 L469.7 223.8 L464.0 224.9 L462.4 223.2ZM477.0 222.8 L478.6 224.5 L472.9 225.6 L471.3 223.9ZM485.9 223.6 L487.6 225.3 L481.9 226.4 L480.2 224.7ZM494.9 224.4 L496.5 226.0 L490.8 227.1 L489.2 225.4ZM503.9 225.2 L505.4 226.8 L499.7 227.8 L498.1 226.2ZM512.8 225.9 L514.4 227.6 L508.6 228.6 L507.1 226.9ZM521.8 226.7 L523.3 228.3 L517.5 229.3 L516.0 227.7ZM530.7 227.5 L532.3 229.1 L526.5 230.0 L524.9 228.4ZM380.7 216.7 L382.5 218.6 L377.0 219.9 L375.2 218.0ZM389.6 217.4 L391.4 219.3 L385.9 220.6 L384.1 218.7ZM398.6 218.2 L400.4 220.1 L394.8 221.3 L393.0 219.5ZM407.5 218.9 L409.3 220.8 L403.7 222.1 L402.0 220.2ZM416.4 219.7 L418.2 221.5 L412.6 222.8 L410.9 220.9ZM425.4 220.4 L427.1 222.2 L421.5 223.5 L419.8 221.6ZM434.3 221.2 L436.0 223.0 L430.4 224.2 L428.7 222.4ZM443.2 221.9 L444.9 223.7 L439.3 224.9 L437.6 223.1ZM452.2 222.7 L453.9 224.4 L448.2 225.6 L446.5 223.8ZM461.1 223.4 L462.8 225.1 L457.1 226.3 L455.5 224.6ZM470.1 224.2 L471.7 225.9 L466.0 227.0 L464.4 225.3ZM479.0 224.9 L480.6 226.6 L474.9 227.7 L473.3 226.0ZM487.9 225.7 L489.5 227.3 L483.8 228.4 L482.2 226.7ZM496.9 226.4 L498.4 228.1 L492.7 229.1 L491.1 227.5ZM505.8 227.2 L507.4 228.8 L501.6 229.8 L500.0 228.2ZM514.7 227.9 L516.3 229.5 L510.5 230.5 L509.0 228.9ZM523.7 228.7 L525.2 230.2 L519.4 231.2 L517.9 229.6ZM374.0 218.3 L375.8 220.2 L370.3 221.6 L368.5 219.7ZM382.9 219.0 L384.7 220.9 L379.2 222.3 L377.4 220.4ZM391.8 219.8 L393.6 221.6 L388.1 222.9 L386.3 221.1ZM400.7 220.5 L402.5 222.3 L397.0 223.6 L395.2 221.8ZM409.7 221.2 L411.4 223.0 L405.8 224.3 L404.1 222.5ZM418.6 221.9 L420.3 223.7 L414.7 225.0 L413.0 223.2ZM427.5 222.6 L429.2 224.4 L423.6 225.6 L421.9 223.9ZM436.4 223.4 L438.1 225.1 L432.5 226.3 L430.8 224.6ZM445.3 224.1 L447.0 225.8 L441.4 227.0 L439.7 225.3ZM454.2 224.8 L455.9 226.5 L450.2 227.7 L448.6 226.0ZM463.1 225.5 L464.8 227.2 L459.1 228.4 L457.5 226.7ZM472.0 226.2 L473.7 227.9 L468.0 229.0 L466.4 227.4ZM481.0 227.0 L482.6 228.6 L476.9 229.7 L475.3 228.1ZM489.9 227.7 L491.5 229.3 L485.8 230.4 L484.2 228.8ZM498.8 228.4 L500.4 230.0 L494.6 231.1 L493.1 229.5ZM507.7 229.1 L509.3 230.7 L503.5 231.8 L502.0 230.2ZM516.6 229.9 L518.2 231.4 L512.4 232.4 L510.9 230.9ZM525.5 230.6 L527.0 232.1 L521.3 233.1 L519.8 231.6ZM376.2 220.6 L378.0 222.5 L372.5 223.9 L370.7 222.0ZM385.1 221.3 L386.9 223.2 L381.4 224.5 L379.6 222.7ZM394.0 222.0 L395.8 223.9 L390.2 225.2 L388.5 223.3ZM402.9 222.7 L404.6 224.6 L399.1 225.9 L397.4 224.0ZM411.8 223.4 L413.5 225.2 L408.0 226.5 L406.2 224.7ZM420.7 224.1 L422.4 225.9 L416.8 227.2 L415.1 225.4ZM429.6 224.8 L431.3 226.6 L425.7 227.8 L424.0 226.0ZM438.5 225.5 L440.1 227.3 L434.5 228.5 L432.9 226.7ZM447.3 226.2 L449.0 227.9 L443.4 229.1 L441.7 227.4ZM456.2 226.9 L457.9 228.6 L452.2 229.8 L450.6 228.1ZM465.1 227.6 L466.8 229.3 L461.1 230.4 L459.5 228.7ZM474.0 228.3 L475.6 230.0 L470.0 231.1 L468.4 229.4ZM482.9 229.0 L484.5 230.6 L478.8 231.7 L477.2 230.1ZM491.8 229.7 L493.4 231.3 L487.7 232.4 L486.1 230.8ZM500.7 230.4 L502.3 232.0 L496.5 233.0 L495.0 231.4ZM509.6 231.1 L511.1 232.7 L505.4 233.7 L503.8 232.1ZM518.5 231.8 L520.0 233.3 L514.2 234.3 L512.7 232.8ZM369.5 222.3 L371.3 224.2 L365.9 225.6 L364.1 223.7ZM378.4 223.0 L380.2 224.8 L374.7 226.2 L372.9 224.3ZM387.3 223.6 L389.0 225.5 L383.5 226.8 L381.8 225.0ZM396.1 224.3 L397.9 226.1 L392.4 227.4 L390.6 225.6ZM405.0 225.0 L406.7 226.8 L401.2 228.1 L399.5 226.3ZM413.9 225.6 L415.6 227.4 L410.0 228.7 L408.3 226.9ZM422.8 226.3 L424.4 228.1 L418.9 229.3 L417.2 227.6ZM431.6 227.0 L433.3 228.7 L427.7 229.9 L426.0 228.2ZM440.5 227.7 L442.2 229.4 L436.6 230.6 L434.9 228.8ZM449.4 228.3 L451.0 230.0 L445.4 231.2 L443.7 229.5ZM458.2 229.0 L459.9 230.7 L454.2 231.8 L452.6 230.1ZM467.1 229.7 L468.7 231.3 L463.1 232.5 L461.5 230.8ZM476.0 230.3 L477.6 232.0 L471.9 233.1 L470.3 231.4ZM484.8 231.0 L486.4 232.6 L480.7 233.7 L479.2 232.1ZM493.7 231.7 L495.3 233.3 L489.6 234.3 L488.0 232.7ZM502.6 232.3 L504.1 233.9 L498.4 235.0 L496.9 233.4ZM511.5 233.0 L513.0 234.6 L507.2 235.6 L505.7 234.0ZM520.3 233.7 L521.8 235.2 L516.1 236.2 L514.6 234.7ZM371.7 224.6 L373.5 226.5 L368.0 227.9 L366.3 226.0ZM380.6 225.2 L382.3 227.1 L376.9 228.5 L375.1 226.6ZM389.4 225.9 L391.2 227.7 L385.7 229.1 L383.9 227.2ZM398.3 226.5 L400.0 228.4 L394.5 229.7 L392.8 227.8ZM407.1 227.2 L408.8 229.0 L403.3 230.3 L401.6 228.5ZM416.0 227.8 L417.7 229.6 L412.1 230.9 L410.4 229.1ZM424.8 228.5 L426.5 230.2 L420.9 231.5 L419.2 229.7ZM433.7 229.1 L435.3 230.8 L429.7 232.1 L428.1 230.3ZM442.5 229.8 L444.2 231.5 L438.6 232.7 L436.9 231.0ZM451.4 230.4 L453.0 232.1 L447.4 233.3 L445.7 231.6ZM460.2 231.0 L461.8 232.7 L456.2 233.9 L454.6 232.2ZM469.1 231.7 L470.6 233.3 L465.0 234.5 L463.4 232.8ZM477.9 232.3 L479.5 234.0 L473.8 235.1 L472.2 233.4ZM486.8 233.0 L488.3 234.6 L482.6 235.7 L481.1 234.1ZM495.6 233.6 L497.1 235.2 L491.4 236.3 L489.9 234.7ZM504.5 234.3 L506.0 235.8 L500.2 236.9 L498.7 235.3ZM513.3 234.9 L514.8 236.4 L509.1 237.5 L507.6 235.9ZM365.1 226.3 L366.8 228.2 L361.4 229.5 L359.6 227.7ZM373.9 226.9 L375.7 228.7 L370.2 230.1 L368.4 228.3ZM382.7 227.5 L384.5 229.3 L379.0 230.7 L377.2 228.9ZM391.5 228.1 L393.3 229.9 L387.8 231.3 L386.1 229.5ZM400.4 228.7 L402.1 230.5 L396.6 231.8 L394.9 230.1ZM409.2 229.4 L410.9 231.1 L405.4 232.4 L403.7 230.6ZM418.0 230.0 L419.7 231.7 L414.2 233.0 L412.5 231.2ZM426.9 230.6 L428.5 232.3 L422.9 233.6 L421.3 231.8ZM435.7 231.2 L437.3 232.9 L431.7 234.1 L430.1 232.4ZM444.5 231.8 L446.1 233.5 L440.5 234.7 L438.9 233.0ZM453.3 232.5 L454.9 234.1 L449.3 235.3 L447.7 233.6ZM462.2 233.1 L463.8 234.7 L458.1 235.9 L456.5 234.2ZM471.0 233.7 L472.6 235.3 L466.9 236.4 L465.3 234.8ZM479.8 234.3 L481.4 235.9 L475.7 237.0 L474.1 235.4ZM488.6 234.9 L490.2 236.5 L484.5 237.6 L483.0 236.0ZM497.5 235.5 L499.0 237.1 L493.3 238.2 L491.8 236.6ZM506.3 236.2 L507.8 237.7 L502.1 238.7 L500.6 237.2ZM515.1 236.8 L516.6 238.3 L510.9 239.3 L509.4 237.8ZM367.2 228.6 L369.0 230.4 L363.6 231.8 L361.8 230.0ZM376.0 229.2 L377.8 231.0 L372.3 232.4 L370.6 230.5ZM384.8 229.7 L386.6 231.6 L381.1 232.9 L379.4 231.1ZM393.7 230.3 L395.4 232.1 L389.9 233.5 L388.2 231.7ZM402.5 230.9 L404.2 232.7 L398.6 234.0 L396.9 232.2ZM411.3 231.5 L412.9 233.3 L407.4 234.6 L405.7 232.8ZM420.1 232.1 L421.7 233.8 L416.2 235.1 L414.5 233.4ZM428.9 232.7 L430.5 234.4 L424.9 235.7 L423.3 233.9ZM437.7 233.3 L439.3 235.0 L433.7 236.2 L432.1 234.5ZM446.5 233.9 L448.1 235.6 L442.5 236.8 L440.9 235.1ZM455.3 234.5 L456.9 236.1 L451.3 237.3 L449.7 235.7ZM464.1 235.1 L465.7 236.7 L460.0 237.8 L458.5 236.2ZM472.9 235.7 L474.5 237.3 L468.8 238.4 L467.2 236.8ZM481.7 236.3 L483.2 237.8 L477.6 238.9 L476.0 237.4ZM490.5 236.8 L492.0 238.4 L486.3 239.5 L484.8 237.9ZM499.3 237.4 L500.8 239.0 L495.1 240.0 L493.6 238.5ZM508.1 238.0 L509.6 239.5 L503.9 240.6 L502.4 239.1Z" fill="#f9fafa" opacity="1.00" filter="url(#soft)"/></g>
<polygon points="409.8,241.2 464.9,235.6 552.4,247.5 542.7,250.9 500.5,253.2 422.8,245.7" fill="#f1f4f6" opacity="0.92"/>
<clipPath id="c6"><polygon points="424.0,242.4 464.5,238.4 540.0,248.6 503.0,252.0"/></clipPath>
<g clip-path="url(#c6)"><path d="M410.1 240.2 L428.1 242.0 L442.4 244.2 L424.4 242.4ZM414.7 239.7 L432.6 241.6 L446.8 243.7 L428.9 241.9ZM419.3 239.3 L437.1 241.1 L451.2 243.3 L433.4 241.5ZM423.8 238.8 L441.6 240.7 L455.7 242.9 L437.9 241.0ZM428.4 238.4 L446.1 240.2 L460.1 242.4 L442.4 240.6ZM433.0 237.9 L450.6 239.8 L464.5 242.0 L446.9 240.1ZM437.6 237.5 L455.1 239.3 L468.9 241.6 L451.4 239.7ZM442.2 237.0 L459.6 238.9 L473.3 241.1 L455.9 239.2ZM446.7 236.5 L464.1 238.4 L477.8 240.7 L460.4 238.8ZM427.6 242.8 L445.6 244.6 L459.9 246.8 L441.9 245.0ZM432.0 242.4 L450.0 244.2 L464.3 246.4 L446.3 244.5ZM436.5 241.9 L454.4 243.8 L468.6 245.9 L450.8 244.1ZM441.0 241.5 L458.8 243.3 L472.9 245.5 L455.2 243.7ZM445.5 241.1 L463.2 242.9 L477.2 245.1 L459.6 243.3ZM450.0 240.6 L467.6 242.5 L481.6 244.7 L464.0 242.8ZM454.4 240.2 L472.0 242.1 L485.9 244.3 L468.4 242.4ZM458.9 239.7 L476.4 241.6 L490.2 243.9 L472.8 242.0ZM463.4 239.3 L480.8 241.2 L494.5 243.5 L477.2 241.6ZM467.9 238.9 L485.2 240.8 L498.9 243.0 L481.6 241.1ZM449.5 245.0 L467.4 246.8 L481.8 249.0 L463.9 247.2ZM453.9 244.6 L471.7 246.4 L486.0 248.6 L468.2 246.8ZM458.3 244.2 L476.0 246.0 L490.3 248.2 L472.5 246.3ZM462.7 243.7 L480.3 245.6 L494.5 247.8 L476.8 245.9ZM467.0 243.3 L484.6 245.2 L498.7 247.4 L481.1 245.5ZM471.4 242.9 L488.9 244.8 L502.9 247.0 L485.4 245.1ZM475.8 242.5 L493.3 244.4 L507.2 246.6 L489.7 244.7ZM480.2 242.0 L497.6 243.9 L511.4 246.2 L494.0 244.3ZM484.6 241.6 L501.9 243.5 L515.6 245.8 L498.3 243.9ZM467.1 247.6 L485.0 249.4 L499.4 251.6 L481.5 249.8ZM471.3 247.2 L489.2 249.0 L503.6 251.2 L485.7 249.4ZM475.6 246.8 L493.4 248.6 L507.7 250.8 L489.9 249.0ZM479.9 246.4 L497.6 248.3 L511.8 250.4 L494.1 248.6ZM484.2 246.0 L501.8 247.9 L516.0 250.0 L498.4 248.2ZM488.5 245.6 L506.0 247.5 L520.1 249.7 L502.6 247.8ZM492.8 245.2 L510.2 247.1 L524.2 249.3 L506.8 247.4ZM497.1 244.8 L514.4 246.7 L528.3 248.9 L511.0 247.0ZM501.4 244.4 L518.6 246.3 L532.5 248.5 L515.2 246.6ZM505.6 244.0 L522.9 245.9 L536.6 248.1 L519.4 246.2ZM488.9 249.8 L506.7 251.7 L521.2 253.8 L503.4 252.0ZM493.1 249.4 L510.9 251.3 L525.2 253.4 L507.5 251.6ZM497.3 249.1 L515.0 250.9 L529.3 253.1 L511.6 251.2ZM501.5 248.7 L519.1 250.5 L533.3 252.7 L515.7 250.8ZM505.7 248.3 L523.2 250.1 L537.3 252.3 L519.8 250.5ZM509.9 247.9 L527.3 249.8 L541.4 252.0 L523.9 250.1ZM514.0 247.5 L531.4 249.4 L545.4 251.6 L528.0 249.7ZM518.2 247.1 L535.5 249.0 L549.4 251.2 L532.1 249.3ZM522.4 246.7 L539.6 248.6 L553.5 250.9 L536.3 248.9Z" fill="#dde1e4" opacity="1.00" filter="url(#soft)"/></g>
<polygon points="440,235.0 462.5,232.2 554.0,243.0 553.8,248.0 462.5,237.4 440,239.4" fill="#2b2c2f"/>
<polygon points="386.4,336.4 541.0,351.6 540.5,357.0 505.0,377.6 503.4,380.5 354.4,370.6 352.1,361.8" fill="#1b1b1d"/>
<polygon points="386.2,341.8 539.9,356.9 504.4,377.4 358.5,366.2" fill="#c6c9cd"/>
<clipPath id="c7"><polygon points="386.2,341.8 539.9,356.9 504.4,377.4 358.5,366.2"/></clipPath>
<g clip-path="url(#c7)"><path d="M392.6 340.6 L394.4 342.6 L388.8 343.9 L387.0 341.9ZM401.7 341.5 L403.5 343.5 L397.8 344.8 L396.1 342.8ZM410.8 342.4 L412.5 344.4 L406.8 345.6 L405.1 343.7ZM419.8 343.3 L421.6 345.3 L415.8 346.5 L414.1 344.5ZM428.9 344.2 L430.6 346.2 L424.9 347.4 L423.2 345.4ZM438.0 345.1 L439.6 347.0 L433.9 348.3 L432.2 346.3ZM447.1 346.0 L448.7 347.9 L442.9 349.1 L441.3 347.2ZM456.1 346.9 L457.7 348.8 L451.9 350.0 L450.3 348.1ZM465.2 347.8 L466.8 349.7 L460.9 350.9 L459.3 349.0ZM474.3 348.7 L475.8 350.6 L469.9 351.8 L468.4 349.9ZM483.4 349.6 L484.8 351.5 L478.9 352.6 L477.4 350.8ZM492.4 350.5 L493.9 352.4 L487.9 353.5 L486.5 351.7ZM501.5 351.4 L502.9 353.3 L496.9 354.4 L495.5 352.5ZM510.6 352.3 L512.0 354.2 L505.9 355.2 L504.5 353.4ZM519.6 353.2 L521.0 355.0 L514.9 356.1 L513.6 354.3ZM528.7 354.1 L530.0 355.9 L524.0 357.0 L522.6 355.2ZM537.8 355.0 L539.1 356.8 L533.0 357.9 L531.7 356.1ZM385.8 342.2 L387.6 344.2 L382.0 345.5 L380.2 343.5ZM394.8 343.1 L396.6 345.1 L391.0 346.4 L389.2 344.3ZM403.9 343.9 L405.6 345.9 L399.9 347.2 L398.2 345.2ZM412.9 344.8 L414.6 346.8 L408.9 348.1 L407.2 346.1ZM421.9 345.7 L423.6 347.7 L417.9 348.9 L416.2 347.0ZM431.0 346.6 L432.6 348.5 L426.9 349.8 L425.2 347.8ZM440.0 347.5 L441.6 349.4 L435.8 350.6 L434.2 348.7ZM449.0 348.4 L450.6 350.3 L444.8 351.5 L443.2 349.6ZM458.1 349.2 L459.6 351.1 L453.8 352.3 L452.2 350.4ZM467.1 350.1 L468.6 352.0 L462.7 353.2 L461.2 351.3ZM476.1 351.0 L477.6 352.9 L471.7 354.0 L470.2 352.2ZM485.2 351.9 L486.6 353.7 L480.7 354.9 L479.2 353.0ZM494.2 352.8 L495.6 354.6 L489.7 355.7 L488.2 353.9ZM503.2 353.7 L504.6 355.5 L498.6 356.6 L497.2 354.8ZM512.3 354.6 L513.6 356.4 L507.6 357.4 L506.2 355.6ZM521.3 355.4 L522.6 357.2 L516.6 358.3 L515.2 356.5ZM530.3 356.3 L531.6 358.1 L525.5 359.2 L524.2 357.4ZM539.4 357.2 L540.6 359.0 L534.5 360.0 L533.3 358.3ZM388.0 344.6 L389.7 346.6 L384.2 348.0 L382.4 345.9ZM397.0 345.5 L398.7 347.5 L393.1 348.8 L391.4 346.8ZM406.0 346.4 L407.7 348.3 L402.0 349.6 L400.3 347.6ZM415.0 347.2 L416.6 349.2 L411.0 350.5 L409.3 348.5ZM424.0 348.1 L425.6 350.0 L419.9 351.3 L418.2 349.3ZM433.0 349.0 L434.6 350.9 L428.8 352.1 L427.2 350.2ZM442.0 349.8 L443.5 351.7 L437.8 353.0 L436.2 351.0ZM450.9 350.7 L452.5 352.6 L446.7 353.8 L445.1 351.9ZM459.9 351.6 L461.5 353.4 L455.6 354.6 L454.1 352.7ZM468.9 352.4 L470.4 354.3 L464.6 355.5 L463.1 353.6ZM477.9 353.3 L479.4 355.1 L473.5 356.3 L472.0 354.4ZM486.9 354.2 L488.4 356.0 L482.4 357.1 L481.0 355.3ZM495.9 355.0 L497.3 356.8 L491.4 358.0 L490.0 356.1ZM504.9 355.9 L506.3 357.7 L500.3 358.8 L498.9 357.0ZM513.9 356.8 L515.2 358.5 L509.2 359.6 L507.9 357.8ZM522.9 357.6 L524.2 359.4 L518.2 360.5 L516.9 358.7ZM531.9 358.5 L533.2 360.2 L527.1 361.3 L525.8 359.5ZM381.2 346.2 L382.9 348.2 L377.4 349.6 L375.6 347.6ZM390.1 347.1 L391.9 349.1 L386.3 350.4 L384.5 348.4ZM399.1 347.9 L400.8 349.9 L395.2 351.2 L393.5 349.2ZM408.0 348.8 L409.7 350.7 L404.1 352.0 L402.4 350.1ZM417.0 349.6 L418.6 351.6 L413.0 352.8 L411.3 350.9ZM426.0 350.5 L427.6 352.4 L421.9 353.6 L420.2 351.7ZM434.9 351.3 L436.5 353.2 L430.8 354.5 L429.2 352.5ZM443.9 352.2 L445.4 354.1 L439.6 355.3 L438.1 353.4ZM452.8 353.0 L454.3 354.9 L448.5 356.1 L447.0 354.2ZM461.8 353.9 L463.3 355.7 L457.4 356.9 L456.0 355.0ZM470.7 354.7 L472.2 356.5 L466.3 357.7 L464.9 355.9ZM479.7 355.5 L481.1 357.4 L475.2 358.5 L473.8 356.7ZM488.7 356.4 L490.1 358.2 L484.1 359.3 L482.7 357.5ZM497.6 357.2 L499.0 359.0 L493.0 360.2 L491.7 358.4ZM506.6 358.1 L507.9 359.9 L501.9 361.0 L500.6 359.2ZM515.5 358.9 L516.8 360.7 L510.8 361.8 L509.5 360.0ZM524.5 359.8 L525.8 361.5 L519.7 362.6 L518.4 360.9ZM533.5 360.6 L534.7 362.4 L528.6 363.4 L527.4 361.7ZM383.3 348.7 L385.1 350.7 L379.5 352.0 L377.8 350.0ZM392.2 349.5 L393.9 351.5 L388.4 352.8 L386.7 350.8ZM401.2 350.3 L402.8 352.3 L397.2 353.6 L395.5 351.6ZM410.1 351.2 L411.7 353.1 L406.1 354.4 L404.4 352.4ZM419.0 352.0 L420.6 353.9 L414.9 355.2 L413.3 353.3ZM427.9 352.8 L429.5 354.7 L423.8 356.0 L422.2 354.1ZM436.8 353.6 L438.4 355.5 L432.6 356.8 L431.1 354.9ZM445.8 354.5 L447.3 356.4 L441.5 357.6 L440.0 355.7ZM454.7 355.3 L456.2 357.2 L450.4 358.4 L448.9 356.5ZM463.6 356.1 L465.0 358.0 L459.2 359.2 L457.8 357.3ZM472.5 357.0 L473.9 358.8 L468.1 360.0 L466.6 358.1ZM481.4 357.8 L482.8 359.6 L476.9 360.8 L475.5 358.9ZM490.4 358.6 L491.7 360.4 L485.8 361.6 L484.4 359.7ZM499.3 359.4 L500.6 361.2 L494.6 362.3 L493.3 360.6ZM508.2 360.3 L509.5 362.0 L503.5 363.1 L502.2 361.4ZM517.1 361.1 L518.4 362.8 L512.4 363.9 L511.1 362.2ZM526.0 361.9 L527.3 363.7 L521.2 364.7 L520.0 363.0ZM376.6 350.3 L378.3 352.3 L372.8 353.6 L371.0 351.6ZM385.4 351.1 L387.1 353.1 L381.6 354.4 L379.9 352.4ZM394.3 351.9 L396.0 353.9 L390.4 355.2 L388.7 353.2ZM403.2 352.7 L404.8 354.7 L399.2 356.0 L397.6 354.0ZM412.1 353.5 L413.7 355.5 L408.0 356.7 L406.4 354.8ZM421.0 354.3 L422.5 356.3 L416.9 357.5 L415.3 355.6ZM429.8 355.1 L431.4 357.0 L425.7 358.3 L424.1 356.4ZM438.7 356.0 L440.2 357.8 L434.5 359.1 L433.0 357.2ZM447.6 356.8 L449.1 358.6 L443.3 359.8 L441.8 358.0ZM456.5 357.6 L457.9 359.4 L452.1 360.6 L450.7 358.8ZM465.4 358.4 L466.8 360.2 L461.0 361.4 L459.5 359.6ZM474.2 359.2 L475.6 361.0 L469.8 362.2 L468.4 360.4ZM483.1 360.0 L484.5 361.8 L478.6 363.0 L477.2 361.2ZM492.0 360.8 L493.3 362.6 L487.4 363.7 L486.1 361.9ZM500.9 361.6 L502.2 363.4 L496.2 364.5 L494.9 362.7ZM509.8 362.4 L511.0 364.2 L505.0 365.3 L503.8 363.5ZM518.7 363.2 L519.9 365.0 L513.9 366.1 L512.6 364.3ZM527.5 364.0 L528.7 365.8 L522.7 366.8 L521.5 365.1ZM378.7 352.7 L380.4 354.7 L374.8 356.0 L373.1 354.1ZM387.5 353.5 L389.2 355.5 L383.6 356.8 L382.0 354.8ZM396.4 354.3 L398.0 356.3 L392.4 357.6 L390.8 355.6ZM405.2 355.1 L406.8 357.0 L401.2 358.3 L399.6 356.4ZM414.0 355.9 L415.6 357.8 L410.0 359.1 L408.4 357.2ZM422.9 356.7 L424.4 358.6 L418.7 359.8 L417.2 357.9ZM431.7 357.5 L433.2 359.3 L427.5 360.6 L426.0 358.7ZM440.6 358.3 L442.1 360.1 L436.3 361.4 L434.8 359.5ZM449.4 359.0 L450.9 360.9 L445.1 362.1 L443.6 360.3ZM458.3 359.8 L459.7 361.7 L453.9 362.9 L452.4 361.0ZM467.1 360.6 L468.5 362.4 L462.7 363.6 L461.3 361.8ZM475.9 361.4 L477.3 363.2 L471.4 364.4 L470.1 362.6ZM484.8 362.2 L486.1 364.0 L480.2 365.1 L478.9 363.4ZM493.6 363.0 L494.9 364.8 L489.0 365.9 L487.7 364.1ZM502.5 363.8 L503.7 365.5 L497.8 366.7 L496.5 364.9ZM511.3 364.6 L512.5 366.3 L506.6 367.4 L505.3 365.7ZM520.2 365.4 L521.4 367.1 L515.3 368.2 L514.1 366.4ZM371.9 354.4 L373.6 356.3 L368.1 357.7 L366.4 355.7ZM380.7 355.1 L382.4 357.1 L376.9 358.4 L375.2 356.5ZM389.5 355.9 L391.2 357.9 L385.6 359.2 L384.0 357.2ZM398.3 356.7 L400.0 358.6 L394.4 359.9 L392.8 358.0ZM407.2 357.4 L408.7 359.4 L403.1 360.7 L401.5 358.7ZM416.0 358.2 L417.5 360.1 L411.9 361.4 L410.3 359.5ZM424.8 359.0 L426.3 360.9 L420.6 362.1 L419.1 360.3ZM433.6 359.8 L435.1 361.6 L429.3 362.9 L427.9 361.0ZM442.4 360.5 L443.8 362.4 L438.1 363.6 L436.6 361.8ZM451.2 361.3 L452.6 363.1 L446.8 364.3 L445.4 362.5ZM460.0 362.1 L461.4 363.9 L455.6 365.1 L454.2 363.3ZM468.8 362.8 L470.1 364.6 L464.3 365.8 L463.0 364.0ZM477.6 363.6 L478.9 365.4 L473.1 366.6 L471.7 364.8ZM486.4 364.4 L487.7 366.1 L481.8 367.3 L480.5 365.5ZM495.2 365.1 L496.5 366.9 L490.5 368.0 L489.3 366.3ZM504.0 365.9 L505.2 367.7 L499.3 368.8 L498.0 367.0ZM512.8 366.7 L514.0 368.4 L508.0 369.5 L506.8 367.8ZM521.6 367.5 L522.8 369.2 L516.8 370.3 L515.6 368.5ZM374.0 356.8 L375.7 358.7 L370.2 360.1 L368.5 358.1ZM382.8 357.5 L384.4 359.5 L378.9 360.8 L377.3 358.9ZM391.5 358.3 L393.2 360.2 L387.6 361.5 L386.0 359.6ZM400.3 359.0 L401.9 360.9 L396.3 362.3 L394.7 360.3ZM409.1 359.8 L410.6 361.7 L405.0 363.0 L403.5 361.1ZM417.8 360.5 L419.4 362.4 L413.7 363.7 L412.2 361.8ZM426.6 361.3 L428.1 363.1 L422.4 364.4 L420.9 362.5ZM435.4 362.0 L436.8 363.9 L431.1 365.1 L429.7 363.3ZM444.1 362.8 L445.6 364.6 L439.8 365.9 L438.4 364.0ZM452.9 363.5 L454.3 365.4 L448.5 366.6 L447.1 364.8ZM461.7 364.3 L463.0 366.1 L457.2 367.3 L455.9 365.5ZM470.4 365.0 L471.8 366.8 L465.9 368.0 L464.6 366.2ZM479.2 365.8 L480.5 367.6 L474.6 368.7 L473.3 367.0ZM488.0 366.5 L489.2 368.3 L483.3 369.4 L482.1 367.7ZM496.7 367.3 L498.0 369.0 L492.0 370.2 L490.8 368.4ZM505.5 368.0 L506.7 369.8 L500.8 370.9 L499.5 369.2ZM514.3 368.8 L515.4 370.5 L509.5 371.6 L508.3 369.9ZM367.3 358.4 L369.0 360.4 L363.5 361.8 L361.9 359.8ZM376.0 359.2 L377.7 361.1 L372.2 362.5 L370.6 360.5ZM384.8 359.9 L386.4 361.8 L380.9 363.2 L379.3 361.2ZM393.5 360.6 L395.1 362.5 L389.5 363.9 L388.0 362.0ZM402.2 361.4 L403.8 363.3 L398.2 364.6 L396.6 362.7ZM411.0 362.1 L412.5 364.0 L406.9 365.3 L405.3 363.4ZM419.7 362.8 L421.2 364.7 L415.5 366.0 L414.0 364.1ZM428.4 363.6 L429.9 365.4 L424.2 366.7 L422.7 364.8ZM437.1 364.3 L438.6 366.1 L432.9 367.4 L431.4 365.5ZM445.9 365.0 L447.3 366.8 L441.5 368.1 L440.1 366.3ZM454.6 365.8 L456.0 367.6 L450.2 368.8 L448.8 367.0ZM463.3 366.5 L464.7 368.3 L458.9 369.5 L457.5 367.7ZM472.1 367.2 L473.4 369.0 L467.5 370.2 L466.2 368.4ZM480.8 367.9 L482.1 369.7 L476.2 370.9 L474.9 369.1ZM489.5 368.7 L490.7 370.4 L484.9 371.6 L483.6 369.8ZM498.2 369.4 L499.4 371.1 L493.5 372.3 L492.3 370.5ZM507.0 370.1 L508.1 371.9 L502.2 373.0 L501.0 371.3ZM515.7 370.9 L516.8 372.6 L510.8 373.7 L509.7 372.0ZM369.4 360.8 L371.0 362.8 L365.5 364.1 L363.9 362.2ZM378.0 361.5 L379.7 363.5 L374.2 364.8 L372.6 362.9ZM386.7 362.2 L388.3 364.2 L382.8 365.5 L381.2 363.6ZM395.4 363.0 L397.0 364.9 L391.4 366.2 L389.9 364.3ZM404.1 363.7 L405.6 365.6 L400.0 366.9 L398.5 365.0ZM412.8 364.4 L414.3 366.3 L408.7 367.5 L407.2 365.7ZM421.5 365.1 L422.9 367.0 L417.3 368.2 L415.8 366.4ZM430.2 365.8 L431.6 367.6 L425.9 368.9 L424.5 367.1ZM438.9 366.5 L440.3 368.3 L434.6 369.6 L433.2 367.8ZM447.6 367.2 L448.9 369.0 L443.2 370.3 L441.8 368.5ZM456.3 367.9 L457.6 369.7 L451.8 371.0 L450.5 369.2ZM464.9 368.7 L466.2 370.4 L460.4 371.6 L459.1 369.9ZM473.6 369.4 L474.9 371.1 L469.1 372.3 L467.8 370.6ZM482.3 370.1 L483.6 371.8 L477.7 373.0 L476.5 371.3ZM491.0 370.8 L492.2 372.5 L486.3 373.7 L485.1 372.0ZM499.7 371.5 L500.9 373.2 L494.9 374.4 L493.8 372.7ZM508.4 372.2 L509.5 373.9 L503.6 375.0 L502.4 373.3ZM362.7 362.5 L364.3 364.4 L358.9 365.8 L357.3 363.9ZM371.4 363.2 L373.0 365.1 L367.5 366.5 L365.9 364.6ZM380.0 363.9 L381.6 365.8 L376.1 367.2 L374.5 365.2ZM388.7 364.6 L390.2 366.5 L384.7 367.8 L383.1 365.9ZM397.3 365.3 L398.8 367.2 L393.3 368.5 L391.8 366.6ZM406.0 366.0 L407.4 367.8 L401.9 369.1 L400.4 367.3ZM414.6 366.7 L416.1 368.5 L410.5 369.8 L409.0 368.0ZM423.3 367.4 L424.7 369.2 L419.0 370.5 L417.6 368.6ZM431.9 368.0 L433.3 369.9 L427.6 371.1 L426.2 369.3ZM440.6 368.7 L441.9 370.5 L436.2 371.8 L434.9 370.0ZM449.2 369.4 L450.5 371.2 L444.8 372.5 L443.5 370.7ZM457.9 370.1 L459.2 371.9 L453.4 373.1 L452.1 371.3ZM466.5 370.8 L467.8 372.6 L462.0 373.8 L460.7 372.0ZM475.2 371.5 L476.4 373.3 L470.6 374.4 L469.3 372.7ZM483.8 372.2 L485.0 373.9 L479.2 375.1 L478.0 373.4ZM492.5 372.9 L493.7 374.6 L487.8 375.8 L486.6 374.1ZM501.1 373.6 L502.3 375.3 L496.3 376.4 L495.2 374.7ZM509.8 374.3 L510.9 376.0 L504.9 377.1 L503.8 375.4ZM364.7 364.9 L366.3 366.8 L360.9 368.2 L359.3 366.3ZM373.3 365.5 L374.9 367.5 L369.4 368.8 L367.9 366.9ZM381.9 366.2 L383.5 368.1 L378.0 369.5 L376.4 367.6ZM390.5 366.9 L392.1 368.8 L386.5 370.1 L385.0 368.2ZM399.2 367.6 L400.6 369.4 L395.1 370.8 L393.6 368.9ZM407.8 368.2 L409.2 370.1 L403.6 371.4 L402.2 369.6ZM416.4 368.9 L417.8 370.8 L412.2 372.0 L410.8 370.2ZM425.0 369.6 L426.4 371.4 L420.7 372.7 L419.3 370.9ZM433.6 370.3 L435.0 372.1 L429.3 373.3 L427.9 371.5ZM442.2 370.9 L443.6 372.7 L437.8 374.0 L436.5 372.2ZM450.8 371.6 L452.1 373.4 L446.4 374.6 L445.1 372.8ZM459.5 372.3 L460.7 374.0 L454.9 375.3 L453.7 373.5ZM468.1 373.0 L469.3 374.7 L463.5 375.9 L462.3 374.2ZM476.7 373.6 L477.9 375.4 L472.0 376.5 L470.8 374.8ZM485.3 374.3 L486.5 376.0 L480.6 377.2 L479.4 375.5ZM493.9 375.0 L495.0 376.7 L489.1 377.8 L488.0 376.1ZM502.5 375.7 L503.6 377.3 L497.7 378.5 L496.6 376.8Z" fill="#f7f8f8" opacity="1.00" filter="url(#soft)"/></g>
<polygon points="373.8,602.7 393.8,598.9 395.6,601.4 401.5,600.6 402,596 410,594 423.9,591.4 472.7,616.4 459,620.2 436.4,609.4 420,614 434.6,626.4 423.9,631" fill="#27282b" stroke="#27282b" stroke-width="1.2" stroke-linejoin="round"/>
<text x="400.4" y="606.8" font-family="Liberation Sans, sans-serif" font-weight="700" font-size="5.6" fill="#ececec" transform="rotate(-9 400.4 606.8)">JCBritw</text>
<polygon points="402.6,588 408.9,588 408.9,600.5 402.6,600.5" fill="#1b1b1d"/>
<g stroke="#55585b" stroke-width="1" fill="none">
<line x1="67.5" y1="139.5" x2="67.5" y2="648.0"/>
<line x1="60.8" y1="139.5" x2="74.0" y2="139.5"/>
<line x1="60.5" y1="648.0" x2="74.0" y2="648.0"/>
</g>
<g stroke="#55585b" stroke-width="1" fill="none">
<line x1="100.4" y1="53.5" x2="102.6" y2="648.0"/>
<line x1="93.0" y1="53.5" x2="106.6" y2="53.5"/>
<line x1="96.3" y1="648.0" x2="109.6" y2="648.0"/>
</g>
<g stroke="#55585b" stroke-width="1" fill="none">
<line x1="324.2" y1="334.5" x2="324.2" y2="607.0"/>
<line x1="316.0" y1="334.5" x2="333.6" y2="334.5"/>
<line x1="316.0" y1="607.0" x2="333.6" y2="607.0"/>
</g>
<g stroke="#55585b" stroke-width="1" fill="none">
<line x1="351.0" y1="202.6" x2="351.0" y2="607.0"/>
<line x1="341.6" y1="202.6" x2="362.0" y2="202.6"/>
<line x1="342.5" y1="607.0" x2="362.0" y2="607.0"/>
</g>
<path d="M199.6 11.6 C214 4 236 7 250 22 C262 35 265.5 52 263 64" stroke="#1747a6" stroke-width="2.6" fill="none"/>
<polygon points="193.2,14.2 198.2,7.0 201.8,15.8" fill="#1747a6"/>
<polygon points="260.4,73.4 256.4,62.6 268.4,66.4" fill="#1747a6"/>
<path d="M484 155.4 C500 148 524 151 540 165 C556 180 561 200 557.6 218" stroke="#1747a6" stroke-width="2.6" fill="none"/>
<polygon points="476.6,159.2 483.4,149.8 487.6,160.8" fill="#1747a6"/>
<polygon points="555.2,228 550.0,215.2 565.0,218.8" fill="#1747a6"/>
<path d="M152.0 244.6 C156.9 254.6 162.5 263.6 169.5 268.4 L329.4 268.4 Q334.4 268.4 334.4 273.4 L334.4 304.8 Q334.4 309.8 329.4 309.8 L165.8 309.8 Q160.8 309.8 160.8 304.8 L160.8 276.0 C159.5 265.6 155.8 254.6 152.0 244.6 Z" fill="#0e4cb8"/>
<path d="M432.9 436.9 C438.1 446.9 444.1 455.9 451.5 460.7 L627.8 460.7 Q632.8 460.7 632.8 465.7 L632.8 496.6 Q632.8 501.6 627.8 501.6 L447.0 501.6 Q442.0 501.6 442.0 496.6 L442.0 468.0 C440.7 457.7 436.7 446.9 432.9 436.9 Z" fill="#0e4cb8"/>
<text x="174.0" y="297.4" font-family="Liberation Sans, Arial, sans-serif" font-weight="700" font-size="21.8" fill="#fff" stroke="#fff" stroke-width="0.35" textLength="148" lengthAdjust="spacingAndGlyphs">Used on Floor</text>
<text x="448.2" y="487.8" font-family="Liberation Sans, Arial, sans-serif" font-weight="700" font-size="21.8" fill="#fff" stroke="#fff" stroke-width="0.35" textLength="180" lengthAdjust="spacingAndGlyphs">Used on Desktop</text>
<text x="350.4" y="44.4" font-family="Liberation Sans, Arial, sans-serif" font-weight="700" font-size="32" fill="#1247ab" textLength="228" lengthAdjust="spacingAndGlyphs">Versatile Stand</text>
<text x="345.4" y="79.6" font-family="Liberation Sans, Arial, sans-serif" font-size="19.6" fill="#1c1c1c" textLength="261" lengthAdjust="spacingAndGlyphs">Used on Desktop or on Floor</text>
<text x="205.8" y="102.6" font-family="Liberation Sans, Arial, sans-serif" font-size="20.4" fill="#1c3d95" textLength="102" lengthAdjust="spacingAndGlyphs">Adjustable</text>
<text x="555.4" y="182.7" font-family="Liberation Sans, Arial, sans-serif" font-size="20.4" fill="#1c3d95" textLength="101.4" lengthAdjust="spacingAndGlyphs">Adjustable</text>
<text x="0" y="0" transform="translate(54.5 431.2) rotate(-90)" font-family="Liberation Sans, Arial, sans-serif" font-weight="700" font-size="18.2" fill="#141414" textLength="61.2" lengthAdjust="spacingAndGlyphs">50 inch</text>
<text x="0" y="0" transform="translate(96.7 359.4) rotate(-90)" font-family="Liberation Sans, Arial, sans-serif" font-weight="700" font-size="17.6" fill="#141414" textLength="57.8" lengthAdjust="spacingAndGlyphs">60 inch</text>
<text x="0" y="0" transform="translate(320.0 512.9) rotate(-90)" font-family="Liberation Sans, Arial, sans-serif" font-weight="700" font-size="16.6" fill="#141414" textLength="68.8" lengthAdjust="spacingAndGlyphs">17.8 inch</text>
<text x="0" y="0" transform="translate(346.3 430.7) rotate(-90)" font-family="Liberation Sans, Arial, sans-serif" font-weight="700" font-size="17.0" fill="#141414" textLength="71.2" lengthAdjust="spacingAndGlyphs">29.5 inch</text>
</svg>
</body></html>
